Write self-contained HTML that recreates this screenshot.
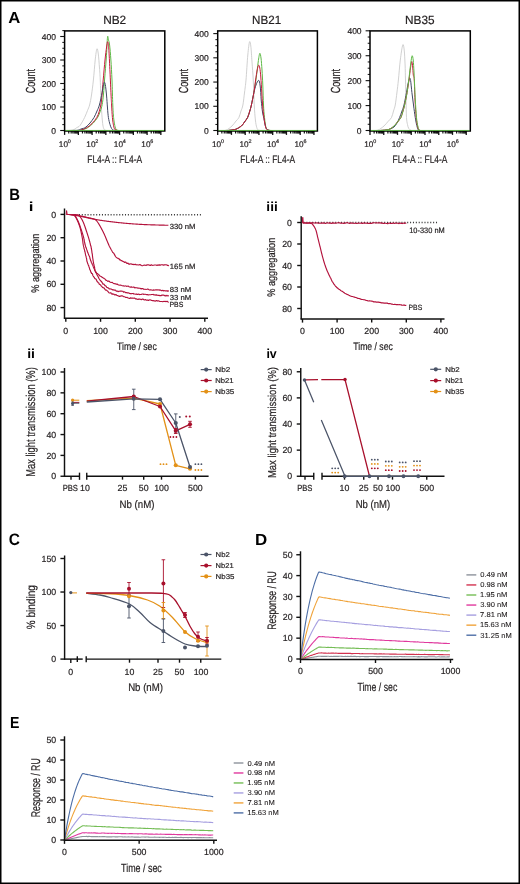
<!DOCTYPE html>
<html><head><meta charset="utf-8"><style>
html,body{margin:0;padding:0;background:#fff;}
body{width:520px;height:884px;overflow:hidden;}
svg text{stroke:#231f20;stroke-width:0.2px;} svg text[font-weight=bold]{stroke:none;}
svg{display:block;will-change:transform;text-rendering:geometricPrecision;font-family:"Liberation Sans",sans-serif;}
</style></head><body>
<svg width="520" height="884" viewBox="0 0 520 884">
<rect x="0.75" y="0.75" width="518.5" height="882.5" fill="none" stroke="#000" stroke-width="1.5"/>
<text x="8.28" y="22.9" font-size="16.09" font-weight="bold" textLength="12.07" lengthAdjust="spacingAndGlyphs" fill="#000" >A</text>
<text x="103.15" y="23.8" font-size="12" textLength="23.04" lengthAdjust="spacingAndGlyphs" fill="#231f20" >NB2</text>
<line x1="60.2" y1="130.5" x2="64.6" y2="130.5" stroke="#111" stroke-width="1.1" />
<text x="56" y="133.5" font-size="8.5" text-anchor="end" fill="#231f20" >0</text>
<line x1="62.3" y1="124.62" x2="64.6" y2="124.62" stroke="#111" stroke-width="1.0" />
<line x1="62.3" y1="118.75" x2="64.6" y2="118.75" stroke="#111" stroke-width="1.0" />
<line x1="62.3" y1="112.88" x2="64.6" y2="112.88" stroke="#111" stroke-width="1.0" />
<line x1="60.2" y1="107" x2="64.6" y2="107" stroke="#111" stroke-width="1.1" />
<text x="56" y="110" font-size="8.5" text-anchor="end" fill="#231f20" >100</text>
<line x1="62.3" y1="101.12" x2="64.6" y2="101.12" stroke="#111" stroke-width="1.0" />
<line x1="62.3" y1="95.25" x2="64.6" y2="95.25" stroke="#111" stroke-width="1.0" />
<line x1="62.3" y1="89.38" x2="64.6" y2="89.38" stroke="#111" stroke-width="1.0" />
<line x1="60.2" y1="83.5" x2="64.6" y2="83.5" stroke="#111" stroke-width="1.1" />
<text x="56" y="86.5" font-size="8.5" text-anchor="end" fill="#231f20" >200</text>
<line x1="62.3" y1="77.62" x2="64.6" y2="77.62" stroke="#111" stroke-width="1.0" />
<line x1="62.3" y1="71.75" x2="64.6" y2="71.75" stroke="#111" stroke-width="1.0" />
<line x1="62.3" y1="65.88" x2="64.6" y2="65.88" stroke="#111" stroke-width="1.0" />
<line x1="60.2" y1="60" x2="64.6" y2="60" stroke="#111" stroke-width="1.1" />
<text x="56" y="63" font-size="8.5" text-anchor="end" fill="#231f20" >300</text>
<line x1="62.3" y1="54.12" x2="64.6" y2="54.12" stroke="#111" stroke-width="1.0" />
<line x1="62.3" y1="48.25" x2="64.6" y2="48.25" stroke="#111" stroke-width="1.0" />
<line x1="62.3" y1="42.38" x2="64.6" y2="42.38" stroke="#111" stroke-width="1.0" />
<line x1="60.2" y1="36.5" x2="64.6" y2="36.5" stroke="#111" stroke-width="1.1" />
<text x="56" y="39.5" font-size="8.5" text-anchor="end" fill="#231f20" >400</text>
<line x1="62.3" y1="30.62" x2="64.6" y2="30.62" stroke="#111" stroke-width="1.0" />
<line x1="64.6" y1="131" x2="64.6" y2="134.9" stroke="#111" stroke-width="1.3" />
<line x1="68.74" y1="131" x2="68.74" y2="133.5" stroke="#111" stroke-width="1.2" />
<line x1="71.16" y1="131" x2="71.16" y2="133.5" stroke="#111" stroke-width="1.2" />
<line x1="72.88" y1="131" x2="72.88" y2="133.5" stroke="#111" stroke-width="1.2" />
<line x1="74.21" y1="131" x2="74.21" y2="133.5" stroke="#111" stroke-width="1.2" />
<line x1="75.3" y1="131" x2="75.3" y2="133.5" stroke="#111" stroke-width="1.2" />
<line x1="76.22" y1="131" x2="76.22" y2="133.5" stroke="#111" stroke-width="1.2" />
<line x1="77.02" y1="131" x2="77.02" y2="133.5" stroke="#111" stroke-width="1.2" />
<line x1="77.72" y1="131" x2="77.72" y2="133.5" stroke="#111" stroke-width="1.2" />
<line x1="78.35" y1="131" x2="78.35" y2="134.9" stroke="#111" stroke-width="1.3" />
<line x1="82.49" y1="131" x2="82.49" y2="133.5" stroke="#111" stroke-width="1.2" />
<line x1="84.91" y1="131" x2="84.91" y2="133.5" stroke="#111" stroke-width="1.2" />
<line x1="86.63" y1="131" x2="86.63" y2="133.5" stroke="#111" stroke-width="1.2" />
<line x1="87.96" y1="131" x2="87.96" y2="133.5" stroke="#111" stroke-width="1.2" />
<line x1="89.05" y1="131" x2="89.05" y2="133.5" stroke="#111" stroke-width="1.2" />
<line x1="89.97" y1="131" x2="89.97" y2="133.5" stroke="#111" stroke-width="1.2" />
<line x1="90.77" y1="131" x2="90.77" y2="133.5" stroke="#111" stroke-width="1.2" />
<line x1="91.47" y1="131" x2="91.47" y2="133.5" stroke="#111" stroke-width="1.2" />
<line x1="92.1" y1="131" x2="92.1" y2="134.9" stroke="#111" stroke-width="1.3" />
<line x1="96.24" y1="131" x2="96.24" y2="133.5" stroke="#111" stroke-width="1.2" />
<line x1="98.66" y1="131" x2="98.66" y2="133.5" stroke="#111" stroke-width="1.2" />
<line x1="100.38" y1="131" x2="100.38" y2="133.5" stroke="#111" stroke-width="1.2" />
<line x1="101.71" y1="131" x2="101.71" y2="133.5" stroke="#111" stroke-width="1.2" />
<line x1="102.8" y1="131" x2="102.8" y2="133.5" stroke="#111" stroke-width="1.2" />
<line x1="103.72" y1="131" x2="103.72" y2="133.5" stroke="#111" stroke-width="1.2" />
<line x1="104.52" y1="131" x2="104.52" y2="133.5" stroke="#111" stroke-width="1.2" />
<line x1="105.22" y1="131" x2="105.22" y2="133.5" stroke="#111" stroke-width="1.2" />
<line x1="105.85" y1="131" x2="105.85" y2="134.9" stroke="#111" stroke-width="1.3" />
<line x1="109.99" y1="131" x2="109.99" y2="133.5" stroke="#111" stroke-width="1.2" />
<line x1="112.41" y1="131" x2="112.41" y2="133.5" stroke="#111" stroke-width="1.2" />
<line x1="114.13" y1="131" x2="114.13" y2="133.5" stroke="#111" stroke-width="1.2" />
<line x1="115.46" y1="131" x2="115.46" y2="133.5" stroke="#111" stroke-width="1.2" />
<line x1="116.55" y1="131" x2="116.55" y2="133.5" stroke="#111" stroke-width="1.2" />
<line x1="117.47" y1="131" x2="117.47" y2="133.5" stroke="#111" stroke-width="1.2" />
<line x1="118.27" y1="131" x2="118.27" y2="133.5" stroke="#111" stroke-width="1.2" />
<line x1="118.97" y1="131" x2="118.97" y2="133.5" stroke="#111" stroke-width="1.2" />
<line x1="119.6" y1="131" x2="119.6" y2="134.9" stroke="#111" stroke-width="1.3" />
<line x1="123.74" y1="131" x2="123.74" y2="133.5" stroke="#111" stroke-width="1.2" />
<line x1="126.16" y1="131" x2="126.16" y2="133.5" stroke="#111" stroke-width="1.2" />
<line x1="127.88" y1="131" x2="127.88" y2="133.5" stroke="#111" stroke-width="1.2" />
<line x1="129.21" y1="131" x2="129.21" y2="133.5" stroke="#111" stroke-width="1.2" />
<line x1="130.3" y1="131" x2="130.3" y2="133.5" stroke="#111" stroke-width="1.2" />
<line x1="131.22" y1="131" x2="131.22" y2="133.5" stroke="#111" stroke-width="1.2" />
<line x1="132.02" y1="131" x2="132.02" y2="133.5" stroke="#111" stroke-width="1.2" />
<line x1="132.72" y1="131" x2="132.72" y2="133.5" stroke="#111" stroke-width="1.2" />
<line x1="133.35" y1="131" x2="133.35" y2="134.9" stroke="#111" stroke-width="1.3" />
<line x1="137.49" y1="131" x2="137.49" y2="133.5" stroke="#111" stroke-width="1.2" />
<line x1="139.91" y1="131" x2="139.91" y2="133.5" stroke="#111" stroke-width="1.2" />
<line x1="141.63" y1="131" x2="141.63" y2="133.5" stroke="#111" stroke-width="1.2" />
<line x1="142.96" y1="131" x2="142.96" y2="133.5" stroke="#111" stroke-width="1.2" />
<line x1="144.05" y1="131" x2="144.05" y2="133.5" stroke="#111" stroke-width="1.2" />
<line x1="144.97" y1="131" x2="144.97" y2="133.5" stroke="#111" stroke-width="1.2" />
<line x1="145.77" y1="131" x2="145.77" y2="133.5" stroke="#111" stroke-width="1.2" />
<line x1="146.47" y1="131" x2="146.47" y2="133.5" stroke="#111" stroke-width="1.2" />
<line x1="147.1" y1="131" x2="147.1" y2="134.9" stroke="#111" stroke-width="1.3" />
<line x1="151.24" y1="131" x2="151.24" y2="133.5" stroke="#111" stroke-width="1.2" />
<line x1="153.66" y1="131" x2="153.66" y2="133.5" stroke="#111" stroke-width="1.2" />
<line x1="155.38" y1="131" x2="155.38" y2="133.5" stroke="#111" stroke-width="1.2" />
<line x1="156.71" y1="131" x2="156.71" y2="133.5" stroke="#111" stroke-width="1.2" />
<line x1="157.8" y1="131" x2="157.8" y2="133.5" stroke="#111" stroke-width="1.2" />
<line x1="158.72" y1="131" x2="158.72" y2="133.5" stroke="#111" stroke-width="1.2" />
<line x1="159.52" y1="131" x2="159.52" y2="133.5" stroke="#111" stroke-width="1.2" />
<line x1="160.22" y1="131" x2="160.22" y2="133.5" stroke="#111" stroke-width="1.2" />
<line x1="160.85" y1="131" x2="160.85" y2="134.9" stroke="#111" stroke-width="1.3" />
<text x="63.4" y="147.2" font-size="8.2" text-anchor="middle" fill="#231f20" >10</text>
<text x="67.8" y="143.3" font-size="5.4" fill="#231f20" >0</text>
<text x="90.9" y="147.2" font-size="8.2" text-anchor="middle" fill="#231f20" >10</text>
<text x="95.3" y="143.3" font-size="5.4" fill="#231f20" >2</text>
<text x="118.4" y="147.2" font-size="8.2" text-anchor="middle" fill="#231f20" >10</text>
<text x="122.8" y="143.3" font-size="5.4" fill="#231f20" >4</text>
<text x="145.9" y="147.2" font-size="8.2" text-anchor="middle" fill="#231f20" >10</text>
<text x="150.3" y="143.3" font-size="5.4" fill="#231f20" >6</text>
<text x="87.22" y="162.5" font-size="10.87" textLength="54.9" lengthAdjust="spacingAndGlyphs" fill="#231f20" >FL4-A :: FL4-A</text>
<text x="0" y="0" font-size="13.14" textLength="24.23" lengthAdjust="spacingAndGlyphs" fill="#231f20" transform="translate(35 93.25) rotate(-90)" >Count</text>
<text x="252.07" y="23.8" font-size="12" textLength="29.03" lengthAdjust="spacingAndGlyphs" fill="#231f20" >NB21</text>
<line x1="213.3" y1="130.5" x2="217.7" y2="130.5" stroke="#111" stroke-width="1.1" />
<text x="208.8" y="133.5" font-size="8.5" text-anchor="end" fill="#231f20" >0</text>
<line x1="215.4" y1="124.44" x2="217.7" y2="124.44" stroke="#111" stroke-width="1.0" />
<line x1="215.4" y1="118.39" x2="217.7" y2="118.39" stroke="#111" stroke-width="1.0" />
<line x1="215.4" y1="112.33" x2="217.7" y2="112.33" stroke="#111" stroke-width="1.0" />
<line x1="213.3" y1="106.28" x2="217.7" y2="106.28" stroke="#111" stroke-width="1.1" />
<text x="208.8" y="109.28" font-size="8.5" text-anchor="end" fill="#231f20" >100</text>
<line x1="215.4" y1="100.22" x2="217.7" y2="100.22" stroke="#111" stroke-width="1.0" />
<line x1="215.4" y1="94.16" x2="217.7" y2="94.16" stroke="#111" stroke-width="1.0" />
<line x1="215.4" y1="88.11" x2="217.7" y2="88.11" stroke="#111" stroke-width="1.0" />
<line x1="213.3" y1="82.05" x2="217.7" y2="82.05" stroke="#111" stroke-width="1.1" />
<text x="208.8" y="85.05" font-size="8.5" text-anchor="end" fill="#231f20" >200</text>
<line x1="215.4" y1="75.99" x2="217.7" y2="75.99" stroke="#111" stroke-width="1.0" />
<line x1="215.4" y1="69.94" x2="217.7" y2="69.94" stroke="#111" stroke-width="1.0" />
<line x1="215.4" y1="63.88" x2="217.7" y2="63.88" stroke="#111" stroke-width="1.0" />
<line x1="213.3" y1="57.82" x2="217.7" y2="57.82" stroke="#111" stroke-width="1.1" />
<text x="208.8" y="60.82" font-size="8.5" text-anchor="end" fill="#231f20" >300</text>
<line x1="215.4" y1="51.77" x2="217.7" y2="51.77" stroke="#111" stroke-width="1.0" />
<line x1="215.4" y1="45.71" x2="217.7" y2="45.71" stroke="#111" stroke-width="1.0" />
<line x1="215.4" y1="39.66" x2="217.7" y2="39.66" stroke="#111" stroke-width="1.0" />
<line x1="213.3" y1="33.6" x2="217.7" y2="33.6" stroke="#111" stroke-width="1.1" />
<text x="208.8" y="36.6" font-size="8.5" text-anchor="end" fill="#231f20" >400</text>
<line x1="217.7" y1="131" x2="217.7" y2="134.9" stroke="#111" stroke-width="1.3" />
<line x1="221.84" y1="131" x2="221.84" y2="133.5" stroke="#111" stroke-width="1.2" />
<line x1="224.26" y1="131" x2="224.26" y2="133.5" stroke="#111" stroke-width="1.2" />
<line x1="225.98" y1="131" x2="225.98" y2="133.5" stroke="#111" stroke-width="1.2" />
<line x1="227.31" y1="131" x2="227.31" y2="133.5" stroke="#111" stroke-width="1.2" />
<line x1="228.4" y1="131" x2="228.4" y2="133.5" stroke="#111" stroke-width="1.2" />
<line x1="229.32" y1="131" x2="229.32" y2="133.5" stroke="#111" stroke-width="1.2" />
<line x1="230.12" y1="131" x2="230.12" y2="133.5" stroke="#111" stroke-width="1.2" />
<line x1="230.82" y1="131" x2="230.82" y2="133.5" stroke="#111" stroke-width="1.2" />
<line x1="231.45" y1="131" x2="231.45" y2="134.9" stroke="#111" stroke-width="1.3" />
<line x1="235.59" y1="131" x2="235.59" y2="133.5" stroke="#111" stroke-width="1.2" />
<line x1="238.01" y1="131" x2="238.01" y2="133.5" stroke="#111" stroke-width="1.2" />
<line x1="239.73" y1="131" x2="239.73" y2="133.5" stroke="#111" stroke-width="1.2" />
<line x1="241.06" y1="131" x2="241.06" y2="133.5" stroke="#111" stroke-width="1.2" />
<line x1="242.15" y1="131" x2="242.15" y2="133.5" stroke="#111" stroke-width="1.2" />
<line x1="243.07" y1="131" x2="243.07" y2="133.5" stroke="#111" stroke-width="1.2" />
<line x1="243.87" y1="131" x2="243.87" y2="133.5" stroke="#111" stroke-width="1.2" />
<line x1="244.57" y1="131" x2="244.57" y2="133.5" stroke="#111" stroke-width="1.2" />
<line x1="245.2" y1="131" x2="245.2" y2="134.9" stroke="#111" stroke-width="1.3" />
<line x1="249.34" y1="131" x2="249.34" y2="133.5" stroke="#111" stroke-width="1.2" />
<line x1="251.76" y1="131" x2="251.76" y2="133.5" stroke="#111" stroke-width="1.2" />
<line x1="253.48" y1="131" x2="253.48" y2="133.5" stroke="#111" stroke-width="1.2" />
<line x1="254.81" y1="131" x2="254.81" y2="133.5" stroke="#111" stroke-width="1.2" />
<line x1="255.9" y1="131" x2="255.9" y2="133.5" stroke="#111" stroke-width="1.2" />
<line x1="256.82" y1="131" x2="256.82" y2="133.5" stroke="#111" stroke-width="1.2" />
<line x1="257.62" y1="131" x2="257.62" y2="133.5" stroke="#111" stroke-width="1.2" />
<line x1="258.32" y1="131" x2="258.32" y2="133.5" stroke="#111" stroke-width="1.2" />
<line x1="258.95" y1="131" x2="258.95" y2="134.9" stroke="#111" stroke-width="1.3" />
<line x1="263.09" y1="131" x2="263.09" y2="133.5" stroke="#111" stroke-width="1.2" />
<line x1="265.51" y1="131" x2="265.51" y2="133.5" stroke="#111" stroke-width="1.2" />
<line x1="267.23" y1="131" x2="267.23" y2="133.5" stroke="#111" stroke-width="1.2" />
<line x1="268.56" y1="131" x2="268.56" y2="133.5" stroke="#111" stroke-width="1.2" />
<line x1="269.65" y1="131" x2="269.65" y2="133.5" stroke="#111" stroke-width="1.2" />
<line x1="270.57" y1="131" x2="270.57" y2="133.5" stroke="#111" stroke-width="1.2" />
<line x1="271.37" y1="131" x2="271.37" y2="133.5" stroke="#111" stroke-width="1.2" />
<line x1="272.07" y1="131" x2="272.07" y2="133.5" stroke="#111" stroke-width="1.2" />
<line x1="272.7" y1="131" x2="272.7" y2="134.9" stroke="#111" stroke-width="1.3" />
<line x1="276.84" y1="131" x2="276.84" y2="133.5" stroke="#111" stroke-width="1.2" />
<line x1="279.26" y1="131" x2="279.26" y2="133.5" stroke="#111" stroke-width="1.2" />
<line x1="280.98" y1="131" x2="280.98" y2="133.5" stroke="#111" stroke-width="1.2" />
<line x1="282.31" y1="131" x2="282.31" y2="133.5" stroke="#111" stroke-width="1.2" />
<line x1="283.4" y1="131" x2="283.4" y2="133.5" stroke="#111" stroke-width="1.2" />
<line x1="284.32" y1="131" x2="284.32" y2="133.5" stroke="#111" stroke-width="1.2" />
<line x1="285.12" y1="131" x2="285.12" y2="133.5" stroke="#111" stroke-width="1.2" />
<line x1="285.82" y1="131" x2="285.82" y2="133.5" stroke="#111" stroke-width="1.2" />
<line x1="286.45" y1="131" x2="286.45" y2="134.9" stroke="#111" stroke-width="1.3" />
<line x1="290.59" y1="131" x2="290.59" y2="133.5" stroke="#111" stroke-width="1.2" />
<line x1="293.01" y1="131" x2="293.01" y2="133.5" stroke="#111" stroke-width="1.2" />
<line x1="294.73" y1="131" x2="294.73" y2="133.5" stroke="#111" stroke-width="1.2" />
<line x1="296.06" y1="131" x2="296.06" y2="133.5" stroke="#111" stroke-width="1.2" />
<line x1="297.15" y1="131" x2="297.15" y2="133.5" stroke="#111" stroke-width="1.2" />
<line x1="298.07" y1="131" x2="298.07" y2="133.5" stroke="#111" stroke-width="1.2" />
<line x1="298.87" y1="131" x2="298.87" y2="133.5" stroke="#111" stroke-width="1.2" />
<line x1="299.57" y1="131" x2="299.57" y2="133.5" stroke="#111" stroke-width="1.2" />
<line x1="300.2" y1="131" x2="300.2" y2="134.9" stroke="#111" stroke-width="1.3" />
<line x1="304.34" y1="131" x2="304.34" y2="133.5" stroke="#111" stroke-width="1.2" />
<line x1="306.76" y1="131" x2="306.76" y2="133.5" stroke="#111" stroke-width="1.2" />
<line x1="308.48" y1="131" x2="308.48" y2="133.5" stroke="#111" stroke-width="1.2" />
<line x1="309.81" y1="131" x2="309.81" y2="133.5" stroke="#111" stroke-width="1.2" />
<line x1="310.9" y1="131" x2="310.9" y2="133.5" stroke="#111" stroke-width="1.2" />
<line x1="311.82" y1="131" x2="311.82" y2="133.5" stroke="#111" stroke-width="1.2" />
<line x1="312.62" y1="131" x2="312.62" y2="133.5" stroke="#111" stroke-width="1.2" />
<line x1="313.32" y1="131" x2="313.32" y2="133.5" stroke="#111" stroke-width="1.2" />
<line x1="313.95" y1="131" x2="313.95" y2="134.9" stroke="#111" stroke-width="1.3" />
<text x="216.5" y="147.2" font-size="8.2" text-anchor="middle" fill="#231f20" >10</text>
<text x="220.9" y="143.3" font-size="5.4" fill="#231f20" >0</text>
<text x="244" y="147.2" font-size="8.2" text-anchor="middle" fill="#231f20" >10</text>
<text x="248.4" y="143.3" font-size="5.4" fill="#231f20" >2</text>
<text x="271.5" y="147.2" font-size="8.2" text-anchor="middle" fill="#231f20" >10</text>
<text x="275.9" y="143.3" font-size="5.4" fill="#231f20" >4</text>
<text x="299" y="147.2" font-size="8.2" text-anchor="middle" fill="#231f20" >10</text>
<text x="303.4" y="143.3" font-size="5.4" fill="#231f20" >6</text>
<text x="240.32" y="162.5" font-size="10.87" textLength="54.9" lengthAdjust="spacingAndGlyphs" fill="#231f20" >FL4-A :: FL4-A</text>
<text x="0" y="0" font-size="13.14" textLength="24.23" lengthAdjust="spacingAndGlyphs" fill="#231f20" transform="translate(188.1 93.25) rotate(-90)" >Count</text>
<text x="405.06" y="23.8" font-size="12" textLength="29.54" lengthAdjust="spacingAndGlyphs" fill="#231f20" >NB35</text>
<line x1="365.6" y1="130.5" x2="370" y2="130.5" stroke="#111" stroke-width="1.1" />
<text x="361.6" y="133.5" font-size="8.5" text-anchor="end" fill="#231f20" >0</text>
<line x1="367.7" y1="124.27" x2="370" y2="124.27" stroke="#111" stroke-width="1.0" />
<line x1="367.7" y1="118.04" x2="370" y2="118.04" stroke="#111" stroke-width="1.0" />
<line x1="367.7" y1="111.81" x2="370" y2="111.81" stroke="#111" stroke-width="1.0" />
<line x1="365.6" y1="105.58" x2="370" y2="105.58" stroke="#111" stroke-width="1.1" />
<text x="361.6" y="108.58" font-size="8.5" text-anchor="end" fill="#231f20" >100</text>
<line x1="367.7" y1="99.34" x2="370" y2="99.34" stroke="#111" stroke-width="1.0" />
<line x1="367.7" y1="93.11" x2="370" y2="93.11" stroke="#111" stroke-width="1.0" />
<line x1="367.7" y1="86.88" x2="370" y2="86.88" stroke="#111" stroke-width="1.0" />
<line x1="365.6" y1="80.65" x2="370" y2="80.65" stroke="#111" stroke-width="1.1" />
<text x="361.6" y="83.65" font-size="8.5" text-anchor="end" fill="#231f20" >200</text>
<line x1="367.7" y1="74.42" x2="370" y2="74.42" stroke="#111" stroke-width="1.0" />
<line x1="367.7" y1="68.19" x2="370" y2="68.19" stroke="#111" stroke-width="1.0" />
<line x1="367.7" y1="61.96" x2="370" y2="61.96" stroke="#111" stroke-width="1.0" />
<line x1="365.6" y1="55.72" x2="370" y2="55.72" stroke="#111" stroke-width="1.1" />
<text x="361.6" y="58.72" font-size="8.5" text-anchor="end" fill="#231f20" >300</text>
<line x1="367.7" y1="49.49" x2="370" y2="49.49" stroke="#111" stroke-width="1.0" />
<line x1="367.7" y1="43.26" x2="370" y2="43.26" stroke="#111" stroke-width="1.0" />
<line x1="367.7" y1="37.03" x2="370" y2="37.03" stroke="#111" stroke-width="1.0" />
<line x1="365.6" y1="30.8" x2="370" y2="30.8" stroke="#111" stroke-width="1.1" />
<text x="361.6" y="33.8" font-size="8.5" text-anchor="end" fill="#231f20" >400</text>
<line x1="370" y1="131" x2="370" y2="134.9" stroke="#111" stroke-width="1.3" />
<line x1="374.14" y1="131" x2="374.14" y2="133.5" stroke="#111" stroke-width="1.2" />
<line x1="376.56" y1="131" x2="376.56" y2="133.5" stroke="#111" stroke-width="1.2" />
<line x1="378.28" y1="131" x2="378.28" y2="133.5" stroke="#111" stroke-width="1.2" />
<line x1="379.61" y1="131" x2="379.61" y2="133.5" stroke="#111" stroke-width="1.2" />
<line x1="380.7" y1="131" x2="380.7" y2="133.5" stroke="#111" stroke-width="1.2" />
<line x1="381.62" y1="131" x2="381.62" y2="133.5" stroke="#111" stroke-width="1.2" />
<line x1="382.42" y1="131" x2="382.42" y2="133.5" stroke="#111" stroke-width="1.2" />
<line x1="383.12" y1="131" x2="383.12" y2="133.5" stroke="#111" stroke-width="1.2" />
<line x1="383.75" y1="131" x2="383.75" y2="134.9" stroke="#111" stroke-width="1.3" />
<line x1="387.89" y1="131" x2="387.89" y2="133.5" stroke="#111" stroke-width="1.2" />
<line x1="390.31" y1="131" x2="390.31" y2="133.5" stroke="#111" stroke-width="1.2" />
<line x1="392.03" y1="131" x2="392.03" y2="133.5" stroke="#111" stroke-width="1.2" />
<line x1="393.36" y1="131" x2="393.36" y2="133.5" stroke="#111" stroke-width="1.2" />
<line x1="394.45" y1="131" x2="394.45" y2="133.5" stroke="#111" stroke-width="1.2" />
<line x1="395.37" y1="131" x2="395.37" y2="133.5" stroke="#111" stroke-width="1.2" />
<line x1="396.17" y1="131" x2="396.17" y2="133.5" stroke="#111" stroke-width="1.2" />
<line x1="396.87" y1="131" x2="396.87" y2="133.5" stroke="#111" stroke-width="1.2" />
<line x1="397.5" y1="131" x2="397.5" y2="134.9" stroke="#111" stroke-width="1.3" />
<line x1="401.64" y1="131" x2="401.64" y2="133.5" stroke="#111" stroke-width="1.2" />
<line x1="404.06" y1="131" x2="404.06" y2="133.5" stroke="#111" stroke-width="1.2" />
<line x1="405.78" y1="131" x2="405.78" y2="133.5" stroke="#111" stroke-width="1.2" />
<line x1="407.11" y1="131" x2="407.11" y2="133.5" stroke="#111" stroke-width="1.2" />
<line x1="408.2" y1="131" x2="408.2" y2="133.5" stroke="#111" stroke-width="1.2" />
<line x1="409.12" y1="131" x2="409.12" y2="133.5" stroke="#111" stroke-width="1.2" />
<line x1="409.92" y1="131" x2="409.92" y2="133.5" stroke="#111" stroke-width="1.2" />
<line x1="410.62" y1="131" x2="410.62" y2="133.5" stroke="#111" stroke-width="1.2" />
<line x1="411.25" y1="131" x2="411.25" y2="134.9" stroke="#111" stroke-width="1.3" />
<line x1="415.39" y1="131" x2="415.39" y2="133.5" stroke="#111" stroke-width="1.2" />
<line x1="417.81" y1="131" x2="417.81" y2="133.5" stroke="#111" stroke-width="1.2" />
<line x1="419.53" y1="131" x2="419.53" y2="133.5" stroke="#111" stroke-width="1.2" />
<line x1="420.86" y1="131" x2="420.86" y2="133.5" stroke="#111" stroke-width="1.2" />
<line x1="421.95" y1="131" x2="421.95" y2="133.5" stroke="#111" stroke-width="1.2" />
<line x1="422.87" y1="131" x2="422.87" y2="133.5" stroke="#111" stroke-width="1.2" />
<line x1="423.67" y1="131" x2="423.67" y2="133.5" stroke="#111" stroke-width="1.2" />
<line x1="424.37" y1="131" x2="424.37" y2="133.5" stroke="#111" stroke-width="1.2" />
<line x1="425" y1="131" x2="425" y2="134.9" stroke="#111" stroke-width="1.3" />
<line x1="429.14" y1="131" x2="429.14" y2="133.5" stroke="#111" stroke-width="1.2" />
<line x1="431.56" y1="131" x2="431.56" y2="133.5" stroke="#111" stroke-width="1.2" />
<line x1="433.28" y1="131" x2="433.28" y2="133.5" stroke="#111" stroke-width="1.2" />
<line x1="434.61" y1="131" x2="434.61" y2="133.5" stroke="#111" stroke-width="1.2" />
<line x1="435.7" y1="131" x2="435.7" y2="133.5" stroke="#111" stroke-width="1.2" />
<line x1="436.62" y1="131" x2="436.62" y2="133.5" stroke="#111" stroke-width="1.2" />
<line x1="437.42" y1="131" x2="437.42" y2="133.5" stroke="#111" stroke-width="1.2" />
<line x1="438.12" y1="131" x2="438.12" y2="133.5" stroke="#111" stroke-width="1.2" />
<line x1="438.75" y1="131" x2="438.75" y2="134.9" stroke="#111" stroke-width="1.3" />
<line x1="442.89" y1="131" x2="442.89" y2="133.5" stroke="#111" stroke-width="1.2" />
<line x1="445.31" y1="131" x2="445.31" y2="133.5" stroke="#111" stroke-width="1.2" />
<line x1="447.03" y1="131" x2="447.03" y2="133.5" stroke="#111" stroke-width="1.2" />
<line x1="448.36" y1="131" x2="448.36" y2="133.5" stroke="#111" stroke-width="1.2" />
<line x1="449.45" y1="131" x2="449.45" y2="133.5" stroke="#111" stroke-width="1.2" />
<line x1="450.37" y1="131" x2="450.37" y2="133.5" stroke="#111" stroke-width="1.2" />
<line x1="451.17" y1="131" x2="451.17" y2="133.5" stroke="#111" stroke-width="1.2" />
<line x1="451.87" y1="131" x2="451.87" y2="133.5" stroke="#111" stroke-width="1.2" />
<line x1="452.5" y1="131" x2="452.5" y2="134.9" stroke="#111" stroke-width="1.3" />
<line x1="456.64" y1="131" x2="456.64" y2="133.5" stroke="#111" stroke-width="1.2" />
<line x1="459.06" y1="131" x2="459.06" y2="133.5" stroke="#111" stroke-width="1.2" />
<line x1="460.78" y1="131" x2="460.78" y2="133.5" stroke="#111" stroke-width="1.2" />
<line x1="462.11" y1="131" x2="462.11" y2="133.5" stroke="#111" stroke-width="1.2" />
<line x1="463.2" y1="131" x2="463.2" y2="133.5" stroke="#111" stroke-width="1.2" />
<line x1="464.12" y1="131" x2="464.12" y2="133.5" stroke="#111" stroke-width="1.2" />
<line x1="464.92" y1="131" x2="464.92" y2="133.5" stroke="#111" stroke-width="1.2" />
<line x1="465.62" y1="131" x2="465.62" y2="133.5" stroke="#111" stroke-width="1.2" />
<line x1="466.25" y1="131" x2="466.25" y2="134.9" stroke="#111" stroke-width="1.3" />
<text x="368.8" y="147.2" font-size="8.2" text-anchor="middle" fill="#231f20" >10</text>
<text x="373.2" y="143.3" font-size="5.4" fill="#231f20" >0</text>
<text x="396.3" y="147.2" font-size="8.2" text-anchor="middle" fill="#231f20" >10</text>
<text x="400.7" y="143.3" font-size="5.4" fill="#231f20" >2</text>
<text x="423.8" y="147.2" font-size="8.2" text-anchor="middle" fill="#231f20" >10</text>
<text x="428.2" y="143.3" font-size="5.4" fill="#231f20" >4</text>
<text x="451.3" y="147.2" font-size="8.2" text-anchor="middle" fill="#231f20" >10</text>
<text x="455.7" y="143.3" font-size="5.4" fill="#231f20" >6</text>
<text x="392.62" y="162.5" font-size="10.87" textLength="54.9" lengthAdjust="spacingAndGlyphs" fill="#231f20" >FL4-A :: FL4-A</text>
<text x="0" y="0" font-size="13.14" textLength="24.23" lengthAdjust="spacingAndGlyphs" fill="#231f20" transform="translate(340.2 93.25) rotate(-90)" >Count</text>
<path d="M65,130.5 C65.83,130.47 68.5,130.45 70,130.3 C71.5,130.15 72.92,130.02 74,129.6 C75.08,129.18 75.5,128.48 76.5,127.8 C77.5,127.12 78.65,127.22 80,125.5 C81.35,123.78 83.35,120 84.6,117.5 C85.85,115 86.67,112.58 87.5,110.5 C88.33,108.42 88.93,107.58 89.6,105 C90.27,102.42 90.87,99.17 91.5,95 C92.13,90.83 92.78,85.83 93.4,80 C94.02,74.17 94.62,65.18 95.2,60 C95.78,54.82 96.38,49.9 96.9,48.9 C97.42,47.9 97.87,50.82 98.3,54 C98.73,57.18 99.17,63.67 99.5,68 C99.83,72.33 99.96,73.83 100.25,80 C100.54,86.17 100.89,98.17 101.25,105 C101.61,111.83 102.04,117.25 102.4,121 C102.76,124.75 102.97,125.97 103.4,127.5 C103.83,129.03 104.23,129.7 105,130.2 C105.77,130.7 107.5,130.45 108,130.5" fill="none" stroke="#c8c8c8" stroke-width="0.85" stroke-linejoin="round" stroke-linecap="round" />
<path d="M76,130.5 C76.83,130.47 79.08,130.75 81,130.3 C82.92,129.85 85.5,128.97 87.5,127.8 C89.5,126.63 91.28,125.07 93,123.3 C94.72,121.53 96.58,119.25 97.8,117.2 C99.02,115.15 99.57,113.12 100.3,111 C101.03,108.88 101.67,107.33 102.2,104.5 C102.73,101.67 103.08,98.42 103.5,94 C103.92,89.58 104.23,84 104.7,78 C105.17,72 105.83,64.8 106.3,58 C106.77,51.2 107.13,40.2 107.5,37.2 C107.87,34.2 108.15,38.7 108.5,40 C108.85,41.3 109.2,41.67 109.6,45 C110,48.33 110.5,54.17 110.9,60 C111.3,65.83 111.68,72.5 112,80 C112.32,87.5 112.53,98.75 112.8,105 C113.07,111.25 113.27,114.08 113.6,117.5 C113.93,120.92 114.35,123.48 114.8,125.5 C115.25,127.52 115.6,128.77 116.3,129.6 C117,130.43 118.55,130.35 119,130.5" fill="none" stroke="#5db845" stroke-width="1.0" stroke-linejoin="round" stroke-linecap="round" />
<path d="M75,130.5 C75.83,130.47 78.08,130.75 80,130.3 C81.92,129.85 84.5,128.93 86.5,127.8 C88.5,126.67 90.29,125.22 92,123.5 C93.71,121.78 95.55,119.5 96.75,117.5 C97.95,115.5 98.49,113.75 99.2,111.5 C99.91,109.25 100.53,106.75 101,104 C101.47,101.25 101.63,99 102,95 C102.37,91 102.7,85.83 103.2,80 C103.7,74.17 104.43,65.5 105,60 C105.57,54.5 106.18,50.03 106.6,47 C107.02,43.97 107.2,42.25 107.5,41.8 C107.8,41.35 108.15,42.6 108.4,44.3 C108.65,46 108.73,47.38 109,52 C109.27,56.62 109.66,64.83 110,72 C110.34,79.17 110.78,89.5 111.05,95 C111.32,100.5 111.38,101.25 111.6,105 C111.82,108.75 112.07,114.03 112.4,117.5 C112.73,120.97 113.17,123.78 113.6,125.8 C114.03,127.82 114.27,128.82 115,129.6 C115.73,130.38 117.5,130.35 118,130.5" fill="none" stroke="#c8193c" stroke-width="1.0" stroke-linejoin="round" stroke-linecap="round" />
<path d="M72,130.5 C73,130.45 76.5,130.45 78,130.2 C79.5,129.95 80.08,129.32 81,129 C81.92,128.68 82.67,128.63 83.5,128.3 C84.33,127.97 84.92,127.88 86,127 C87.08,126.12 88.67,124.58 90,123 C91.33,121.42 92.83,119.5 94,117.5 C95.17,115.5 96.1,113.08 97,111 C97.9,108.92 98.55,108.08 99.4,105 C100.25,101.92 101.42,95.92 102.1,92.5 C102.78,89.08 103.14,86.22 103.5,84.5 C103.86,82.78 103.95,82.2 104.25,82.2 C104.55,82.2 104.92,82.37 105.3,84.5 C105.67,86.63 106.13,91.08 106.5,95 C106.87,98.92 107.18,104.25 107.5,108 C107.82,111.75 107.98,114.75 108.4,117.5 C108.82,120.25 109.47,122.67 110,124.5 C110.53,126.33 111.03,127.55 111.6,128.5 C112.17,129.45 112.5,129.87 113.4,130.2 C114.3,130.53 116.4,130.45 117,130.5" fill="none" stroke="#3f4763" stroke-width="1.0" stroke-linejoin="round" stroke-linecap="round" />
<path d="M220,130.5 C221,130.45 224,130.95 226,130.2 C228,129.45 230.33,127.53 232,126 C233.67,124.47 234.85,122.42 236,121 C237.15,119.58 238.07,119.17 238.9,117.5 C239.73,115.83 240.33,113.08 241,111 C241.67,108.92 242.3,108.17 242.9,105 C243.5,101.83 244.08,96.17 244.6,92 C245.12,87.83 245.47,86.17 246,80 C246.53,73.83 247.22,61.33 247.8,55 C248.38,48.67 249,43.5 249.5,42 C250,40.5 250.38,42.67 250.8,46 C251.22,49.33 251.59,56.33 252,62 C252.41,67.67 252.88,72.83 253.25,80 C253.62,87.17 253.89,98.33 254.25,105 C254.61,111.67 254.98,116.25 255.4,120 C255.82,123.75 256.23,125.8 256.75,127.5 C257.27,129.2 257.62,129.7 258.5,130.2 C259.38,130.7 261.42,130.45 262,130.5" fill="none" stroke="#c8c8c8" stroke-width="0.85" stroke-linejoin="round" stroke-linecap="round" />
<path d="M228,130.5 C228.83,130.38 231.67,130.02 233,129.8 C234.33,129.58 234.6,129.83 236,129.2 C237.4,128.57 239.98,127.2 241.4,126 C242.82,124.8 243.47,123.42 244.5,122 C245.53,120.58 246.72,119.33 247.6,117.5 C248.48,115.67 249.17,113.08 249.8,111 C250.43,108.92 250.72,108.08 251.4,105 C252.08,101.92 253.1,97 253.9,92.5 C254.7,88 255.48,83.08 256.2,78 C256.92,72.92 257.61,66.1 258.2,62 C258.79,57.9 259.28,54.07 259.75,53.4 C260.22,52.73 260.62,55.23 261,58 C261.38,60.77 261.7,65.5 262,70 C262.3,74.5 262.55,79.17 262.8,85 C263.05,90.83 263.22,99.58 263.5,105 C263.78,110.42 264.08,113.75 264.5,117.5 C264.92,121.25 265.42,125.42 266,127.5 C266.58,129.58 267,129.5 268,130 C269,130.5 271.33,130.42 272,130.5" fill="none" stroke="#5db845" stroke-width="1.0" stroke-linejoin="round" stroke-linecap="round" />
<path d="M228,130.5 C228.83,130.38 231.67,130.02 233,129.8 C234.33,129.58 234.6,129.83 236,129.2 C237.4,128.57 239.98,127.2 241.4,126 C242.82,124.8 243.47,123.42 244.5,122 C245.53,120.58 246.72,119.33 247.6,117.5 C248.48,115.67 249.17,113.08 249.8,111 C250.43,108.92 250.72,108.08 251.4,105 C252.08,101.92 253.13,95.83 253.9,92.5 C254.67,89.17 255.22,87.03 256,85 C256.78,82.97 257.9,80.13 258.6,80.3 C259.3,80.47 259.77,82.72 260.2,86 C260.63,89.28 260.82,95.67 261.2,100 C261.58,104.33 262.05,108.92 262.5,112 C262.95,115.08 263.4,116.08 263.9,118.5 C264.4,120.92 264.9,124.62 265.5,126.5 C266.1,128.38 266.75,129.13 267.5,129.8 C268.25,130.47 269.58,130.38 270,130.5" fill="none" stroke="#3f4763" stroke-width="1.0" stroke-linejoin="round" stroke-linecap="round" />
<path d="M228,130.5 C228.83,130.38 231.67,130.02 233,129.8 C234.33,129.58 234.6,129.83 236,129.2 C237.4,128.57 239.98,127.2 241.4,126 C242.82,124.8 243.47,123.42 244.5,122 C245.53,120.58 246.72,119.33 247.6,117.5 C248.48,115.67 249.17,113.08 249.8,111 C250.43,108.92 250.72,108.08 251.4,105 C252.08,101.92 253.2,96.67 253.9,92.5 C254.6,88.33 255.05,83.75 255.6,80 C256.15,76.25 256.7,72.47 257.2,70 C257.7,67.53 258.17,65.53 258.6,65.2 C259.03,64.87 259.43,66.03 259.8,68 C260.17,69.97 260.48,73 260.8,77 C261.12,81 261.45,87.33 261.75,92 C262.05,96.67 262.24,100.75 262.6,105 C262.96,109.25 263.38,113.75 263.9,117.5 C264.42,121.25 265.15,125.43 265.75,127.5 C266.35,129.57 266.79,129.4 267.5,129.9 C268.21,130.4 269.58,130.4 270,130.5" fill="none" stroke="#c8193c" stroke-width="1.0" stroke-linejoin="round" stroke-linecap="round" />
<path d="M372,130.5 C373,130.43 376,130.85 378,130.1 C380,129.35 382.33,127.43 384,126 C385.67,124.57 386.75,122.92 388,121.5 C389.25,120.08 390.58,119.25 391.5,117.5 C392.42,115.75 392.88,113.08 393.5,111 C394.12,108.92 394.67,108.17 395.25,105 C395.83,101.83 396.48,96.17 397,92 C397.52,87.83 397.85,85.33 398.4,80 C398.95,74.67 399.57,65.83 400.3,60 C401.03,54.17 402.1,46.67 402.75,45 C403.4,43.33 403.81,46.67 404.2,50 C404.59,53.33 404.88,60 405.1,65 C405.32,70 405.35,74.17 405.5,80 C405.65,85.83 405.83,93.75 406,100 C406.17,106.25 406.25,113.42 406.5,117.5 C406.75,121.58 407.12,122.67 407.5,124.5 C407.88,126.33 408.17,127.5 408.75,128.5 C409.33,129.5 410.62,130.17 411,130.5" fill="none" stroke="#c8c8c8" stroke-width="0.85" stroke-linejoin="round" stroke-linecap="round" />
<path d="M380,130.5 C381,130.42 384.33,130.25 386,130 C387.67,129.75 388.67,129.5 390,129 C391.33,128.5 392.83,128 394,127 C395.17,126 396.07,124.58 397,123 C397.93,121.42 398.77,119.5 399.6,117.5 C400.43,115.5 401.27,113.08 402,111 C402.73,108.92 403.25,108.08 404,105 C404.75,101.92 405.83,96 406.5,92.5 C407.17,89 407.48,86.37 408,84 C408.52,81.63 409.17,78.88 409.6,78.3 C410.03,77.72 410.22,78.13 410.6,80.5 C410.98,82.87 411.42,88.42 411.9,92.5 C412.38,96.58 412.94,100.83 413.5,105 C414.06,109.17 414.7,114.08 415.25,117.5 C415.8,120.92 416.28,123.42 416.8,125.5 C417.32,127.58 417.7,129.17 418.4,130 C419.1,130.83 420.57,130.42 421,130.5" fill="none" stroke="#3f4763" stroke-width="1.0" stroke-linejoin="round" stroke-linecap="round" />
<path d="M380,130.5 C381,130.42 384.33,130.25 386,130 C387.67,129.75 388.67,129.67 390,129 C391.33,128.33 392.75,127.17 394,126 C395.25,124.83 396.35,123.42 397.5,122 C398.65,120.58 399.98,119.33 400.9,117.5 C401.82,115.67 402.38,113.08 403,111 C403.62,108.92 403.92,108.08 404.6,105 C405.28,101.92 406.37,96.67 407.1,92.5 C407.83,88.33 408.43,84.08 409,80 C409.57,75.92 410.04,71.08 410.5,68 C410.96,64.92 411.4,61.83 411.75,61.5 C412.1,61.17 412.34,63.75 412.6,66 C412.86,68.25 413.03,72.67 413.3,75 C413.57,77.33 413.97,75.83 414.25,80 C414.53,84.17 414.67,93.75 415,100 C415.33,106.25 415.83,113.17 416.25,117.5 C416.67,121.83 417.04,123.92 417.5,126 C417.96,128.08 418.25,129.25 419,130 C419.75,130.75 421.5,130.42 422,130.5" fill="none" stroke="#c8193c" stroke-width="1.0" stroke-linejoin="round" stroke-linecap="round" />
<path d="M380,130.5 C381,130.42 384.33,130.25 386,130 C387.67,129.75 388.67,129.67 390,129 C391.33,128.33 392.75,127.17 394,126 C395.25,124.83 396.35,123.42 397.5,122 C398.65,120.58 399.98,119.33 400.9,117.5 C401.82,115.67 402.38,113.08 403,111 C403.62,108.92 403.92,108.08 404.6,105 C405.28,101.92 406.37,97 407.1,92.5 C407.83,88 408.38,82.92 409,78 C409.62,73.08 410.28,66.7 410.8,63 C411.32,59.3 411.7,56.3 412.1,55.8 C412.5,55.3 412.88,57.3 413.2,60 C413.52,62.7 413.77,67.83 414,72 C414.23,76.17 414.38,80.33 414.6,85 C414.82,89.67 414.98,94.58 415.3,100 C415.62,105.42 416.08,113.17 416.5,117.5 C416.92,121.83 417.33,123.92 417.8,126 C418.27,128.08 418.6,129.25 419.3,130 C420,130.75 421.55,130.42 422,130.5" fill="none" stroke="#5db845" stroke-width="1.0" stroke-linejoin="round" stroke-linecap="round" />
<rect x="64.6" y="30.9" width="100.2" height="100.1" fill="none" stroke="#000" stroke-width="1.5"/>
<line x1="65.4" y1="130.45" x2="164" y2="130.45" stroke="#5db845" stroke-width="0.9" />
<rect x="217.7" y="30.9" width="99.7" height="100.1" fill="none" stroke="#000" stroke-width="1.5"/>
<line x1="218.5" y1="130.45" x2="316.6" y2="130.45" stroke="#5db845" stroke-width="0.9" />
<rect x="370" y="30.9" width="100.3" height="100.1" fill="none" stroke="#000" stroke-width="1.5"/>
<line x1="370.8" y1="130.45" x2="469.5" y2="130.45" stroke="#5db845" stroke-width="0.9" />
<text x="9.23" y="199.75" font-size="16.3" font-weight="bold" textLength="10.77" lengthAdjust="spacingAndGlyphs" fill="#000" >B</text>
<text x="28.71" y="210.7" font-size="12.97" font-weight="bold" textLength="4.73" lengthAdjust="spacingAndGlyphs" fill="#000" >i</text>
<text x="266.35" y="210.7" font-size="12.97" font-weight="bold" textLength="11.35" lengthAdjust="spacingAndGlyphs" fill="#000" >iii</text>
<text x="27.22" y="357.8" font-size="12.97" font-weight="bold" textLength="7.77" lengthAdjust="spacingAndGlyphs" fill="#000" >ii</text>
<text x="266.43" y="357.8" font-size="12.97" font-weight="bold" textLength="10.32" lengthAdjust="spacingAndGlyphs" fill="#000" >iv</text>
<line x1="64.5" y1="208.5" x2="64.5" y2="318.8" stroke="#111" stroke-width="1.45" />
<line x1="60.5" y1="214.4" x2="64.5" y2="214.4" stroke="#111" stroke-width="1.4" />
<text x="56.2" y="217.5" font-size="8.8" text-anchor="end" fill="#231f20" >0</text>
<line x1="60.5" y1="237.7" x2="64.5" y2="237.7" stroke="#111" stroke-width="1.4" />
<text x="56.2" y="240.8" font-size="8.8" text-anchor="end" fill="#231f20" >20</text>
<line x1="60.5" y1="261" x2="64.5" y2="261" stroke="#111" stroke-width="1.4" />
<text x="56.2" y="264.1" font-size="8.8" text-anchor="end" fill="#231f20" >40</text>
<line x1="60.5" y1="284.3" x2="64.5" y2="284.3" stroke="#111" stroke-width="1.4" />
<text x="56.2" y="287.4" font-size="8.8" text-anchor="end" fill="#231f20" >60</text>
<line x1="60.5" y1="307.6" x2="64.5" y2="307.6" stroke="#111" stroke-width="1.4" />
<text x="56.2" y="310.7" font-size="8.8" text-anchor="end" fill="#231f20" >80</text>
<line x1="63.9" y1="318.2" x2="208" y2="318.2" stroke="#111" stroke-width="1.45" />
<line x1="65.8" y1="318.2" x2="65.8" y2="321.8" stroke="#111" stroke-width="1.4" />
<text x="65.8" y="334.3" font-size="8.8" text-anchor="middle" fill="#231f20" >0</text>
<line x1="100.55" y1="318.2" x2="100.55" y2="321.8" stroke="#111" stroke-width="1.4" />
<text x="100.55" y="334.3" font-size="8.8" text-anchor="middle" fill="#231f20" >100</text>
<line x1="135.3" y1="318.2" x2="135.3" y2="321.8" stroke="#111" stroke-width="1.4" />
<text x="135.3" y="334.3" font-size="8.8" text-anchor="middle" fill="#231f20" >200</text>
<line x1="170.05" y1="318.2" x2="170.05" y2="321.8" stroke="#111" stroke-width="1.4" />
<text x="170.05" y="334.3" font-size="8.8" text-anchor="middle" fill="#231f20" >300</text>
<line x1="204.8" y1="318.2" x2="204.8" y2="321.8" stroke="#111" stroke-width="1.4" />
<text x="204.8" y="334.3" font-size="8.8" text-anchor="middle" fill="#231f20" >400</text>
<text x="116.98" y="349.8" font-size="10.62" textLength="39.83" lengthAdjust="spacingAndGlyphs" fill="#231f20" >Time / sec</text>
<text x="0" y="0" font-size="11.03" textLength="59.11" lengthAdjust="spacingAndGlyphs" fill="#231f20" transform="translate(39.1 292.82) rotate(-90)" >% aggregation</text>
<line x1="78.9" y1="214.8" x2="202" y2="214.8" stroke="#3a3a3a" stroke-width="1.5" stroke-dasharray="1.05 1.83"/>
<polyline points="66.75,214.5 67.18,214.51 67.75,214.51 68.64,214.55 70,214.7 70.5,214.76 71.03,214.83 71.61,214.91 72.23,214.99 72.88,215.07 73.57,215.17 74.29,215.27 75.04,215.38 75.81,215.49 76.61,215.62 77.43,215.75 78.27,215.89 79.13,216.04 80,216.2 80.6,216.31 81.21,216.44 81.84,216.57 82.48,216.7 83.14,216.84 83.81,216.99 84.5,217.14 85.19,217.3 85.89,217.46 86.6,217.62 87.32,217.78 88.05,217.94 88.77,218.11 89.5,218.27 90.24,218.43 90.97,218.58 91.7,218.74 92.43,218.89 93.16,219.03 93.88,219.17 94.6,219.3 95.28,219.42 95.96,219.54 96.65,219.66 97.33,219.77 98.01,219.89 98.7,220 99.39,220.11 100.07,220.22 100.76,220.32 101.46,220.43 102.15,220.53 102.85,220.63 103.55,220.73 104.25,220.83 104.95,220.93 105.66,221.03 106.38,221.13 107.09,221.22 107.81,221.32 108.54,221.41 109.27,221.51 110,221.6 110.68,221.69 111.36,221.77 112.04,221.85 112.73,221.94 113.42,222.02 114.11,222.1 114.81,222.18 115.51,222.26 116.21,222.34 116.92,222.42 117.63,222.49 118.34,222.57 119.05,222.64 119.76,222.72 120.48,222.79 121.2,222.86 121.92,222.93 122.64,223 123.37,223.07 124.09,223.14 124.82,223.21 125.54,223.27 126.27,223.34 127,223.4 127.7,223.46 128.39,223.52 129.08,223.58 129.77,223.63 130.45,223.69 131.13,223.74 131.82,223.79 132.5,223.85 133.18,223.9 133.87,223.95 134.56,224 135.25,224.04 135.95,224.09 136.65,224.14 137.36,224.18 138.08,224.23 138.81,224.27 139.54,224.32 140.28,224.36 141.04,224.4 141.8,224.44 142.58,224.48 143.37,224.52 144.18,224.56 145,224.6 145.64,224.63 146.31,224.66 147.01,224.69 147.73,224.71 148.48,224.74 149.24,224.77 150.02,224.79 150.82,224.82 151.63,224.85 152.44,224.87 153.27,224.9 154.1,224.92 154.93,224.94 155.76,224.97 156.59,224.99 157.41,225.01 158.23,225.04 159.04,225.06 159.84,225.08 160.62,225.1 161.39,225.12 162.13,225.14 162.86,225.16 163.56,225.17 164.23,225.19 164.88,225.21 165.5,225.22 166.08,225.24 166.62,225.25 167.13,225.26 167.6,225.28 168.02,225.29 168.4,225.3" fill="none" stroke="#b3123c" stroke-width="1.15" stroke-linejoin="round"/>
<polyline points="66.75,214.5 67.18,214.5 67.74,214.5 68.4,214.49 69.15,214.48 69.94,214.47 70.77,214.48 71.61,214.49 72.42,214.51 73.2,214.55 73.9,214.6 74.7,214.69 75.45,214.81 76.18,214.94 76.9,215.09 77.62,215.26 78.37,215.43 79.15,215.61 80,215.8 80.66,215.94 81.36,216.09 82.08,216.25 82.83,216.41 83.59,216.58 84.35,216.75 85.11,216.93 85.87,217.1 86.6,217.27 87.32,217.44 88,217.6 88.82,217.79 89.63,217.97 90.44,218.14 91.23,218.31 92,218.48 92.73,218.66 93.41,218.86 94.04,219.07 94.6,219.3 95.41,219.73 96.01,220.18 96.49,220.68 96.95,221.27 97.5,222 97.85,222.47 98.2,222.98 98.55,223.52 98.91,224.09 99.28,224.7 99.65,225.34 100.03,226 100.41,226.69 100.8,227.4 101.1,227.95 101.4,228.52 101.71,229.11 102.03,229.71 102.34,230.32 102.66,230.96 102.98,231.6 103.31,232.26 103.63,232.93 103.96,233.61 104.28,234.3 104.6,235 104.88,235.63 105.17,236.29 105.47,236.99 105.78,237.71 106.08,238.45 106.39,239.19 106.69,239.93 106.99,240.66 107.28,241.37 107.56,242.05 107.82,242.69 108.07,243.28 108.3,243.82 108.5,244.3 109.03,245.5 109.37,246.21 109.65,246.74 110,247.4 110.35,248.07 110.72,248.76 111.1,249.46 111.53,250.21 112,250.97 112.38,251.76 112.78,252.53 113.22,252.75 113.66,253.09 114.11,253.95 114.56,254.58 115,255.69 115.58,256.53 116.13,257.11 116.69,257.6 117.3,258.2 118,258.27 118.56,258.73 119.15,258.89 119.77,259.91 120.42,259.77 121.1,260.65 121.79,260.53 122.5,261.26 123.13,261.4 123.77,261.7 124.42,262.43 125.09,262.12 125.78,262.14 126.5,263.13 127.23,263.33 128,263.12 128.6,263.97 129.18,264.42 129.74,263.88 130.31,263.99 130.91,263.81 131.55,263.96 132.26,264.39 133.06,264.19 133.97,264.67 135,264.31 135.54,264.24 136.1,264.87 136.69,264.78 137.3,264.77 137.94,264.96 138.59,264.94 139.27,264.86 139.96,264.47 140.67,264.98 141.4,265.49 142.14,265.76 142.89,265.59 143.65,265.21 144.43,265.03 145.21,265.28 146,265.39 146.79,264.89 147.59,264.77 148.39,264.84 149.2,265.03 150,265.43 150.67,265.32 151.37,264.8 152.1,265.34 152.87,265.21 153.65,265.24 154.45,264.96 155.28,265.02 156.11,265.02 156.95,265.4 157.79,264.92 158.64,265.12 159.48,264.85 160.31,265.24 161.14,264.77 161.94,264.77 162.73,264.84 163.5,265.16 164.24,264.74 164.95,264.93 165.63,264.78 166.26,264.77 166.86,264.96 167.41,265.54 167.91,265.35 168.36,265.73 168.75,265.13" fill="none" stroke="#b3123c" stroke-width="1.15" stroke-linejoin="round"/>
<polyline points="66.75,214.5 67.18,214.51 67.73,214.52 68.39,214.53 69.14,214.54 69.94,214.55 70.79,214.56 71.65,214.58 72.51,214.59 73.35,214.61 74.14,214.63 74.86,214.65 75.48,214.67 76,214.7 77.33,214.76 77.92,214.85 78.5,215.2 79,215.57 79.49,216.02 79.98,216.58 80.48,217.23 81,218 81.33,218.52 81.65,219.04 81.98,219.6 82.31,220.21 82.66,220.88 83.02,221.64 83.4,222.51 83.8,223.5 84,224.03 84.22,224.6 84.44,225.22 84.68,225.87 84.92,226.56 85.16,227.26 85.41,227.99 85.66,228.73 85.91,229.48 86.15,230.23 86.4,230.97 86.64,231.71 86.87,232.42 87.09,233.12 87.31,233.78 87.51,234.41 87.7,235 87.97,235.85 88.23,236.66 88.47,237.44 88.69,238.18 88.9,238.89 89.11,239.57 89.3,240.24 89.48,240.89 89.66,241.53 89.83,242.16 90,242.58 90.2,243.61 90.38,244.46 90.54,245.37 90.7,245.54 90.85,246 90.99,246.48 91.13,247.12 91.26,248.26 91.4,248.65 91.52,249.51 91.63,249.99 91.74,250.63 91.84,251.41 91.94,252.51 92.05,253.21 92.15,253.39 92.26,254.09 92.38,254.71 92.5,256.08 92.6,256.95 92.7,257.73 92.81,258.49 92.92,259.16 93.03,260.05 93.14,260.72 93.25,260.94 93.37,261.94 93.49,262.48 93.61,263.33 93.74,263.92 93.87,264.41 94,264.9 94.17,265.68 94.34,266.35 94.5,266.88 94.67,268.15 94.84,269.11 95.03,270.1 95.24,270.65 95.46,271.11 95.72,271.79 96,271.85 96.39,272.73 96.81,273.2 97.27,273.42 97.75,273.77 98.27,274.44 98.81,274.75 99.39,275.33 100,276 100.52,276.31 101.07,276.44 101.65,277.05 102.26,277.33 102.88,277.69 103.5,278.03 104.14,278.55 104.77,278.73 105.39,279.52 106,280.34 106.64,280.41 107.25,280.88 107.83,281.43 108.42,281.02 109.02,281.03 109.67,281.75 110.36,282.27 111.14,282.5 112,282.34 112.55,282.53 113.11,283.14 113.68,283.55 114.26,283.79 114.86,283.47 115.48,284.01 116.12,283.95 116.79,284.33 117.49,284.11 118.22,284.86 118.99,285 119.8,285.29 120.65,285.08 121.55,285.45 122.5,285.7 123.05,285.85 123.6,285.77 124.17,286.13 124.75,286.01 125.34,285.98 125.94,285.9 126.56,286.39 127.18,286.18 127.81,286.24 128.46,286.19 129.12,286.74 129.79,287 130.47,287.17 131.16,286.87 131.86,287.14 132.58,287.24 133.31,287.13 134.05,287.05 134.8,287.96 135.56,287.69 136.34,287.77 137.12,287.84 137.92,288.22 138.74,288 139.56,288.3 140.4,288.4 141.25,288.93 141.86,288.47 142.49,288.57 143.15,288.8 143.84,289.38 144.55,289.3 145.27,289.26 146.02,289.46 146.78,289.26 147.56,288.96 148.35,289.27 149.16,289.83 149.97,289.99 150.79,289.68 151.61,289.94 152.44,290.26 153.27,289.92 154.1,290.09 154.93,289.99 155.76,289.88 156.58,289.9 157.4,289.87 158.2,290.02 159,289.84 159.78,290.11 160.55,290 161.3,290.58 162.03,290.75 162.74,290.33 163.43,290.84 164.1,290.6 164.74,290.76 165.36,290.94 165.95,290.85 166.5,290.79 167.02,290.91 167.51,290.72 167.96,291.3 168.38,290.92 168.75,291.4" fill="none" stroke="#b3123c" stroke-width="1.15" stroke-linejoin="round"/>
<polyline points="66.75,214.5 67.24,214.5 67.93,214.48 68.75,214.47 69.63,214.46 70.51,214.47 71.32,214.52 72,214.6 72.91,214.77 73.64,214.99 74.3,215.37 75,216 75.38,216.43 75.75,216.93 76.12,217.48 76.5,218.09 76.88,218.75 77.25,219.45 77.62,220.21 78,221 78.25,221.56 78.51,222.16 78.76,222.79 79.02,223.44 79.28,224.12 79.53,224.81 79.79,225.51 80.04,226.22 80.29,226.93 80.53,227.63 80.77,228.32 81,229 81.25,229.73 81.5,230.45 81.74,231.18 81.98,231.91 82.22,232.64 82.45,233.36 82.67,234.09 82.89,234.82 83.1,235.55 83.3,236.27 83.5,237 83.68,237.73 83.85,238.47 84,238.82 84.15,239.96 84.29,240.85 84.43,241.95 84.56,242.19 84.71,242.66 84.86,243.73 85.02,244.53 85.2,244.91 85.41,245.87 85.61,246.38 85.82,247.34 86.04,247.48 86.27,247.97 86.51,249.23 86.76,249.67 87.02,250.16 87.3,251.36 87.6,252.22 87.81,252.34 88.03,253.1 88.25,253.91 88.49,254.14 88.73,255.07 88.97,255.34 89.22,256.03 89.48,256.47 89.74,257.16 90.01,258.63 90.28,259.14 90.55,260.34 90.83,260.75 91.11,261.48 91.4,262.47 91.66,263.07 91.92,263.13 92.18,263.98 92.45,264.8 92.72,265.11 93,265.54 93.28,266.89 93.56,267.56 93.85,267.93 94.14,268.72 94.43,269.23 94.72,270.4 95.02,271.02 95.31,271.26 95.61,272.41 95.9,272.56 96.2,273.11 96.56,273.54 96.92,274.8 97.28,275.14 97.64,276.04 98.01,276.37 98.37,277.22 98.74,278.16 99.12,278.76 99.5,279.27 99.88,279.83 100.28,280.34 100.68,281.01 101.08,281.11 101.5,281.79 102,282.22 102.51,283.34 103.03,284.24 103.56,284.08 104.1,284.32 104.64,285.24 105.2,285.8 105.75,285.74 106.31,286.6 106.87,287.47 107.44,287.57 108,287.72 108.68,288.24 109.36,289.03 110.05,288.9 110.74,289.01 111.44,289.07 112.14,289.65 112.85,289.9 113.56,289.91 114.28,290.14 115,290.01 115.68,290.3 116.29,291.18 116.86,291.27 117.42,291.06 118.02,291.65 118.67,291.41 119.41,291.24 120.27,291.01 121.29,291.09 122.5,291.28 123,291.39 123.51,292.13 124.04,291.94 124.59,291.87 125.16,292.24 125.74,292.78 126.34,292.48 126.96,292.85 127.59,292.69 128.24,292.85 128.9,293.02 129.58,293.51 130.27,293.61 130.98,293.47 131.7,293.79 132.43,293.52 133.18,293.45 133.94,294.05 134.71,293.98 135.49,294.22 136.28,293.92 137.08,294.42 137.9,294.41 138.72,294.08 139.55,294.64 140.4,294.49 141.25,294.32 141.86,294.17 142.49,293.96 143.15,293.97 143.84,294.49 144.55,294.22 145.27,294.22 146.02,294.44 146.78,294.66 147.56,294.62 148.35,295.03 149.16,294.73 149.97,294.7 150.79,294.76 151.61,294.52 152.44,294.5 153.27,294.44 154.1,295 154.93,294.72 155.76,295.11 156.58,294.88 157.4,295.2 158.2,295.39 159,295.19 159.78,295.68 160.55,295.67 161.3,295.57 162.03,295.03 162.74,295.12 163.43,295.04 164.1,295.22 164.74,295.78 165.36,296 165.95,295.32 166.5,295.61 167.02,296.01 167.51,295.83 167.96,295.31 168.38,295.82 168.75,295.64" fill="none" stroke="#b3123c" stroke-width="1.15" stroke-linejoin="round"/>
<polyline points="66.75,214.5 67.25,214.5 67.95,214.5 68.78,214.49 69.67,214.5 70.55,214.51 71.35,214.54 72,214.6 73.04,214.72 73.77,214.93 74.5,215.5 74.91,215.97 75.31,216.53 75.72,217.17 76.13,217.92 76.55,218.76 77,219.7 77.26,220.26 77.52,220.85 77.8,221.47 78.08,222.12 78.37,222.8 78.66,223.51 78.94,224.24 79.22,225 79.49,225.78 79.75,226.58 80,227.4 80.18,228.03 80.35,228.7 80.53,229.39 80.7,230.11 80.87,230.85 81.03,231.6 81.2,232.36 81.35,233.12 81.51,233.88 81.66,234.63 81.8,235.36 81.93,236.06 82.06,236.74 82.19,237.39 82.3,238 82.45,238.84 82.56,239.6 82.66,240.3 82.74,240.96 82.81,241.6 82.88,242.23 82.95,242.87 83.04,243.53 83.16,244.24 83.3,245 83.43,245.63 83.58,246.28 83.73,246.96 83.9,247.65 84.08,248.83 84.26,248.82 84.44,249.91 84.63,250.23 84.81,251.58 85,251.64 85.17,252.87 85.34,253.63 85.5,254.5 85.68,255.52 85.84,255.64 86,256.16 86.15,257.16 86.29,257.59 86.44,258.15 86.6,258.74 86.75,260.03 86.92,261.04 87.1,261.82 87.3,261.98 87.51,263.12 87.73,263.63 87.96,263.96 88.19,264.69 88.44,265.37 88.69,265.71 88.94,266.7 89.2,267.32 89.47,268.17 89.73,269.27 90,269.85 90.3,270.27 90.61,271.27 90.92,272.23 91.24,272.52 91.56,273.44 91.89,273.28 92.22,273.62 92.55,274.11 92.87,275.4 93.2,276.07 93.6,276.82 94.01,277.06 94.41,277.67 94.81,278.64 95.22,278.61 95.64,278.89 96.06,279.24 96.5,280.12 96.95,281.23 97.4,281.78 97.86,282.19 98.32,282.78 98.8,283.03 99.29,284.2 99.79,284.46 100.3,284.73 100.83,285.21 101.37,286.21 101.93,286.46 102.49,287.42 103.07,287.57 103.64,288 104.22,288.08 104.8,289.18 105.37,289.86 105.94,290.11 106.51,290.11 107.09,290.7 107.67,291.1 108.26,291.97 108.87,292.68 109.5,293.01 110.14,292.88 110.77,292.71 111.42,293.61 112.08,294.23 112.76,293.88 113.47,294.16 114.21,294.41 115,295.16 115.56,294.65 116.09,294.5 116.6,295.28 117.11,295.48 117.64,295.55 118.22,295.98 118.86,296.09 119.59,296.34 120.42,296.11 121.39,295.93 122.5,295.88 123,296.16 123.51,296.66 124.04,296.7 124.59,296.73 125.16,297.07 125.74,297.37 126.34,297.47 126.96,297.28 127.59,297.75 128.24,298.02 128.9,298.3 129.58,298.5 130.27,297.77 130.98,298.12 131.7,298.03 132.43,298.07 133.18,298.28 133.94,298.07 134.71,298.12 135.49,298.94 136.28,298.74 137.08,299.28 137.9,299.37 138.72,299.1 139.55,299.02 140.4,299.32 141.25,299.61 141.86,299.41 142.49,299.07 143.15,299.05 143.84,299.76 144.55,300.02 145.27,299.57 146.02,300.11 146.78,300.15 147.56,299.97 148.35,300.48 149.16,300.01 149.97,299.77 150.79,299.94 151.61,300.46 152.44,300.56 153.27,300.59 154.1,301.06 154.93,300.82 155.76,301.13 156.58,300.53 157.4,301.05 158.2,300.72 159,301.08 159.78,301.48 160.55,301.53 161.3,301.51 162.03,301.5 162.74,301.72 163.43,301.48 164.1,301.25 164.74,301.49 165.36,301.59 165.95,301.27 166.5,301.54 167.02,301.63 167.51,301.39 167.96,301.84 168.38,302.15 168.75,301.88" fill="none" stroke="#b3123c" stroke-width="1.15" stroke-linejoin="round"/>
<polyline points="66.2,214.6 66.6,210.6 67.2,214.5" fill="none" stroke="#b3123c" stroke-width="1.0" stroke-linejoin="round" />
<text x="169.74" y="229.1" font-size="7.43" textLength="25.78" lengthAdjust="spacingAndGlyphs" fill="#231f20" >330 nM</text>
<text x="169.82" y="268.8" font-size="7.57" textLength="25.7" lengthAdjust="spacingAndGlyphs" fill="#231f20" >165 nM</text>
<text x="169.65" y="292.2" font-size="7.29" textLength="21.61" lengthAdjust="spacingAndGlyphs" fill="#231f20" >83 nM</text>
<text x="169.69" y="299.6" font-size="7.29" textLength="21.57" lengthAdjust="spacingAndGlyphs" fill="#231f20" >33 nM</text>
<text x="169.45" y="306.6" font-size="7.43" textLength="13.87" lengthAdjust="spacingAndGlyphs" fill="#231f20" >PBS</text>
<line x1="301.2" y1="216.3" x2="301.2" y2="319.6" stroke="#111" stroke-width="1.45" />
<line x1="297.2" y1="222.5" x2="301.2" y2="222.5" stroke="#111" stroke-width="1.4" />
<text x="292" y="225.6" font-size="8.8" text-anchor="end" fill="#231f20" >0</text>
<line x1="297.2" y1="244" x2="301.2" y2="244" stroke="#111" stroke-width="1.4" />
<text x="292" y="247.1" font-size="8.8" text-anchor="end" fill="#231f20" >20</text>
<line x1="297.2" y1="265.5" x2="301.2" y2="265.5" stroke="#111" stroke-width="1.4" />
<text x="292" y="268.6" font-size="8.8" text-anchor="end" fill="#231f20" >40</text>
<line x1="297.2" y1="287" x2="301.2" y2="287" stroke="#111" stroke-width="1.4" />
<text x="292" y="290.1" font-size="8.8" text-anchor="end" fill="#231f20" >60</text>
<line x1="297.2" y1="308.5" x2="301.2" y2="308.5" stroke="#111" stroke-width="1.4" />
<text x="292" y="311.6" font-size="8.8" text-anchor="end" fill="#231f20" >80</text>
<line x1="300.6" y1="319" x2="444.5" y2="319" stroke="#111" stroke-width="1.45" />
<line x1="302.5" y1="319" x2="302.5" y2="322.6" stroke="#111" stroke-width="1.4" />
<text x="302.5" y="334.3" font-size="8.8" text-anchor="middle" fill="#231f20" >0</text>
<line x1="337.1" y1="319" x2="337.1" y2="322.6" stroke="#111" stroke-width="1.4" />
<text x="337.1" y="334.3" font-size="8.8" text-anchor="middle" fill="#231f20" >100</text>
<line x1="371.7" y1="319" x2="371.7" y2="322.6" stroke="#111" stroke-width="1.4" />
<text x="371.7" y="334.3" font-size="8.8" text-anchor="middle" fill="#231f20" >200</text>
<line x1="406.3" y1="319" x2="406.3" y2="322.6" stroke="#111" stroke-width="1.4" />
<text x="406.3" y="334.3" font-size="8.8" text-anchor="middle" fill="#231f20" >300</text>
<line x1="440.9" y1="319" x2="440.9" y2="322.6" stroke="#111" stroke-width="1.4" />
<text x="440.9" y="334.3" font-size="8.8" text-anchor="middle" fill="#231f20" >400</text>
<text x="353.28" y="349.8" font-size="10.76" textLength="39.53" lengthAdjust="spacingAndGlyphs" fill="#231f20" >Time / sec</text>
<text x="0" y="0" font-size="11.03" textLength="59.11" lengthAdjust="spacingAndGlyphs" fill="#231f20" transform="translate(275.1 296.82) rotate(-90)" >% aggregation</text>
<line x1="303.5" y1="222.5" x2="438.2" y2="222.5" stroke="#3a3a3a" stroke-width="1.4" stroke-dasharray="1.05 1.83"/>
<polyline points="302.75,223 303.11,223 303.49,223 303.89,223 304.31,222.93 304.74,222.81 305.19,222.71 305.66,223.11 306.15,223.1 306.65,223.17 307.16,223.12 307.7,223 308.24,223.14 308.8,223.13 309.38,223.24 309.97,223.22 310.57,223.33 311.18,223.14 311.81,222.87 312.45,222.74 313.1,223.01 313.77,222.82 314.44,223.02 315.12,223.09 315.82,222.8 316.52,223.09 317.24,222.78 317.96,223.13 318.69,223.29 319.43,222.99 320.18,223.15 320.94,223.24 321.7,222.91 322.47,223.08 323.25,222.84 324.03,223.19 324.82,223.23 325.61,223.43 326.41,222.97 327.21,222.91 328.02,223.05 328.83,223.12 329.65,222.9 330.47,223.21 331.29,223.35 332.11,223.09 332.93,222.86 333.76,223.07 334.58,223.01 335.41,223.14 336.24,223.1 337.07,223.03 337.9,222.76 338.72,222.7 339.55,222.87 340.37,223.11 341.19,223.05 342.01,223.22 342.83,223.18 343.64,223.36 344.46,223.32 345.26,223.1 346.06,222.88 346.86,222.73 347.66,222.64 348.44,223.08 349.22,223.32 350,223.36 350.65,223 351.32,223.15 351.99,222.9 352.68,223.24 353.37,223.27 354.08,223.34 354.79,223.29 355.51,223.15 356.25,223.34 356.99,223.5 357.73,223.16 358.49,223.1 359.25,223.25 360.02,223.29 360.79,223.15 361.57,223.11 362.36,223.4 363.15,223.13 363.95,222.95 364.75,223.15 365.55,223.01 366.36,223.31 367.17,223.12 367.99,223.38 368.8,223.19 369.62,223.39 370.44,223.42 371.26,223.42 372.08,223.11 372.91,222.92 373.73,222.75 374.55,222.76 375.37,223.05 376.19,222.84 377.01,222.84 377.83,223.03 378.65,222.89 379.46,222.92 380.27,222.87 381.08,223.12 381.88,222.91 382.68,223.33 383.48,223.31 384.26,223.36 385.05,223.3 385.83,223.23 386.6,223.48 387.37,223.56 388.13,223.56 388.88,223.08 389.63,223.18 390.36,223.44 391.09,223.39 391.81,223.29 392.52,223.32 393.23,223.06 393.92,223.26 394.6,223.39 395.27,223.03 395.93,223.11 396.58,223.21 397.22,223.11 397.84,223.26 398.46,223.47 399.06,223.58 399.64,223.27 400.22,223.02 400.77,223.32 401.32,223.32 401.85,223.46 402.36,223.55 402.86,223.24 403.35,223.27 403.81,223.11 404.26,223.33 404.7,223.38 405.11,223.13 405.51,223.17 405.89,223.24 406.25,223.06" fill="none" stroke="#b3123c" stroke-width="1.15" stroke-linejoin="round"/>
<polyline points="302.3,223.1 302.75,217.3 303.3,223" fill="none" stroke="#b3123c" stroke-width="1.0" stroke-linejoin="round" />
<polyline points="302.75,223 303.22,223 303.87,223 304.64,223 305.46,223 306.27,223 307,223 307.8,222.95 308.6,222.84 309.37,222.76 310.11,222.78 310.8,222.95 311.44,223.31 312.03,223.8 312.59,224.39 313.13,225.07 313.65,225.8 314.02,226.35 314.38,226.92 314.73,227.53 315.06,228.18 315.39,228.87 315.7,229.61 316,230.4 316.19,230.99 316.37,231.6 316.54,232.23 316.7,232.88 316.85,233.56 317.01,234.26 317.17,234.99 317.33,235.74 317.51,236.51 317.7,237.3 317.86,237.93 318.02,238.59 318.19,239.26 318.36,239.96 318.54,240.67 318.72,241.39 318.9,242.12 319.09,242.85 319.27,243.59 319.46,244.32 319.64,245.06 319.82,245.78 320,246.5 320.18,247.22 320.35,247.94 320.53,248.67 320.71,249.4 320.88,250.13 321.06,250.86 321.24,251.59 321.42,252.31 321.59,253.03 321.77,253.74 321.95,254.44 322.12,255.13 322.3,255.8 322.51,256.58 322.72,257.36 322.93,258.12 323.14,258.87 323.35,259.61 323.55,260.35 323.76,261.06 323.97,261.77 324.18,262.46 324.39,263.14 324.6,263.8 324.85,264.58 325.1,265.33 325.34,266.06 325.59,266.76 325.84,267.45 326.09,268.13 326.35,268.82 326.62,269.5 326.9,270.2 327.2,270.91 327.5,271.62 327.82,272.33 328.15,273.03 328.48,273.74 328.81,274.44 329.14,275.14 329.47,275.82 329.8,276.5 330.12,277.23 330.44,277.69 330.77,278.37 331.09,279.01 331.41,279.87 331.73,280.59 332.06,281.33 332.38,281.67 332.7,282.23 333.11,282.75 333.51,283.38 333.92,284.09 334.32,284.51 334.73,285.05 335.16,285.74 335.6,286.29 336.12,286.72 336.63,287.3 337.16,287.89 337.71,288.09 338.32,288.75 339,289.31 339.55,289.6 340.13,289.89 340.74,290.58 341.38,290.91 342.05,291.2 342.74,291.57 343.46,292.28 344.2,292.75 344.82,293.2 345.47,293.57 346.15,293.86 346.84,294.36 347.54,294.55 348.26,294.88 348.98,295.32 349.69,295.62 350.4,296.01 351.1,296.24 351.79,296.53 352.48,296.53 353.17,296.73 353.86,296.97 354.54,297.11 355.23,297.35 355.92,297.52 356.61,297.78 357.31,298.14 358,298.32 358.69,298.5 359.38,298.6 360.07,298.76 360.76,299.18 361.45,299.35 362.14,299.5 362.85,299.47 363.55,299.75 364.27,299.74 365,299.9 365.63,300.28 366.2,300.39 366.74,300.48 367.26,300.63 367.8,300.83 368.38,300.96 369.02,300.88 369.74,300.83 370.58,301 371.56,301.15 372.7,301.3 373.22,301.65 373.77,301.84 374.36,301.76 374.98,301.9 375.63,301.91 376.31,302.17 377,302.17 377.72,302.14 378.46,302.17 379.21,302.36 379.98,302.39 380.76,302.58 381.54,302.85 382.33,302.84 383.13,302.81 383.92,303.16 384.72,303.19 385.51,303.09 386.29,303.07 387.06,303.13 387.82,303.41 388.57,303.66 389.3,303.68 390.01,303.59 390.7,303.71 391.36,304.06 392,304.08 392.84,304.32 393.7,304.45 394.55,304.22 395.41,304.43 396.26,304.56 397.11,304.61 397.94,304.57 398.77,304.73 399.57,304.64 400.36,304.76 401.12,304.86 401.85,305.14 402.55,305.28 403.22,305.14 403.85,305.18 404.44,305.1 404.98,305.38 405.47,305.52 405.91,305.38 406.3,305.47" fill="none" stroke="#b3123c" stroke-width="1.15" stroke-linejoin="round"/>
<text x="409.24" y="233.1" font-size="7.86" textLength="35.46" lengthAdjust="spacingAndGlyphs" fill="#231f20" >10-330 nM</text>
<text x="408.55" y="310.1" font-size="7.57" textLength="13.66" lengthAdjust="spacingAndGlyphs" fill="#231f20" >PBS</text>
<line x1="64.5" y1="368" x2="64.5" y2="476.85" stroke="#111" stroke-width="1.45" />
<line x1="60.5" y1="476.25" x2="64.5" y2="476.25" stroke="#111" stroke-width="1.4" />
<text x="56.2" y="479.35" font-size="8.8" text-anchor="end" fill="#231f20" >0</text>
<line x1="60.5" y1="455.4" x2="64.5" y2="455.4" stroke="#111" stroke-width="1.4" />
<text x="56.2" y="458.5" font-size="8.8" text-anchor="end" fill="#231f20" >20</text>
<line x1="60.5" y1="434.55" x2="64.5" y2="434.55" stroke="#111" stroke-width="1.4" />
<text x="56.2" y="437.65" font-size="8.8" text-anchor="end" fill="#231f20" >40</text>
<line x1="60.5" y1="413.7" x2="64.5" y2="413.7" stroke="#111" stroke-width="1.4" />
<text x="56.2" y="416.8" font-size="8.8" text-anchor="end" fill="#231f20" >60</text>
<line x1="60.5" y1="392.85" x2="64.5" y2="392.85" stroke="#111" stroke-width="1.4" />
<text x="56.2" y="395.95" font-size="8.8" text-anchor="end" fill="#231f20" >80</text>
<line x1="60.5" y1="372" x2="64.5" y2="372" stroke="#111" stroke-width="1.4" />
<text x="56.2" y="375.1" font-size="8.8" text-anchor="end" fill="#231f20" >100</text>
<line x1="63.9" y1="476.25" x2="79.5" y2="476.25" stroke="#111" stroke-width="1.45" />
<line x1="79.5" y1="472.65" x2="79.5" y2="479.85" stroke="#111" stroke-width="1.4" />
<line x1="71" y1="476.25" x2="71" y2="479.65" stroke="#111" stroke-width="1.4" />
<line x1="86.75" y1="476.25" x2="208.6" y2="476.25" stroke="#111" stroke-width="1.45" />
<line x1="86.75" y1="472.65" x2="86.75" y2="479.85" stroke="#111" stroke-width="1.4" />
<line x1="122.5" y1="476.25" x2="122.5" y2="479.65" stroke="#111" stroke-width="1.4" />
<line x1="143.7" y1="476.25" x2="143.7" y2="479.65" stroke="#111" stroke-width="1.4" />
<line x1="161.5" y1="476.25" x2="161.5" y2="479.65" stroke="#111" stroke-width="1.4" />
<line x1="195.4" y1="476.25" x2="195.4" y2="479.65" stroke="#111" stroke-width="1.4" />
<text x="70.3" y="491.2" font-size="8.8" text-anchor="middle" textLength="15.3" lengthAdjust="spacingAndGlyphs" fill="#231f20" >PBS</text>
<text x="85" y="491.2" font-size="8.8" text-anchor="middle" fill="#231f20" >10</text>
<text x="122.5" y="491.2" font-size="8.8" text-anchor="middle" fill="#231f20" >25</text>
<text x="143.7" y="491.2" font-size="8.8" text-anchor="middle" fill="#231f20" >50</text>
<text x="161.5" y="491.2" font-size="8.8" text-anchor="middle" fill="#231f20" >100</text>
<text x="195.4" y="491.2" font-size="8.8" text-anchor="middle" fill="#231f20" >500</text>
<text x="119.53" y="507.5" font-size="10.9" textLength="34.97" lengthAdjust="spacingAndGlyphs" fill="#231f20" >Nb (nM)</text>
<text x="0" y="0" font-size="12.83" textLength="109.66" lengthAdjust="spacingAndGlyphs" fill="#231f20" transform="translate(35 476.85) rotate(-90)" >Max light transmission (%)</text>
<polyline points="86.75,400.6 133.75,398.2 160,404 175.75,465.3 190,468.8" fill="none" stroke="#e39117" stroke-width="1.3" stroke-linejoin="round" />
<polyline points="86.75,401.2 133.75,396.5 160,406.5 175.75,430.8 190,424.3" fill="none" stroke="#a8102c" stroke-width="1.3" stroke-linejoin="round" />
<polyline points="86.75,402 133.75,398.8 160,399.3 175.75,423 190,467" fill="none" stroke="#4b5468" stroke-width="1.3" stroke-linejoin="round" />
<line x1="72.5" y1="400.2" x2="79.3" y2="400.2" stroke="#e39117" stroke-width="1.0" />
<line x1="72.5" y1="402.4" x2="79.3" y2="402.4" stroke="#a8102c" stroke-width="1.0" />
<line x1="72.5" y1="403.2" x2="79.3" y2="403.2" stroke="#4b5468" stroke-width="1.0" />
<line x1="72.6" y1="401" x2="72.6" y2="405.4" stroke="#4b5468" stroke-width="0.9" />
<line x1="71.3" y1="401" x2="73.9" y2="401" stroke="#4b5468" stroke-width="0.9" />
<line x1="71.3" y1="405.4" x2="73.9" y2="405.4" stroke="#4b5468" stroke-width="0.9" />
<circle cx="72.6" cy="403.4" r="1.6" fill="#4b5468"/>
<circle cx="72.6" cy="400" r="1.6" fill="#e39117"/>
<line x1="133.75" y1="389.2" x2="133.75" y2="409.6" stroke="#4b5468" stroke-width="0.9" />
<line x1="131.95" y1="389.2" x2="135.55" y2="389.2" stroke="#4b5468" stroke-width="0.9" />
<line x1="131.95" y1="409.6" x2="135.55" y2="409.6" stroke="#4b5468" stroke-width="0.9" />
<line x1="175.75" y1="413.9" x2="175.75" y2="432" stroke="#4b5468" stroke-width="0.9" />
<line x1="173.95" y1="413.9" x2="177.55" y2="413.9" stroke="#4b5468" stroke-width="0.9" />
<line x1="173.95" y1="432" x2="177.55" y2="432" stroke="#4b5468" stroke-width="0.9" />
<line x1="175.75" y1="428.5" x2="175.75" y2="433.5" stroke="#a8102c" stroke-width="0.9" />
<line x1="173.95" y1="428.5" x2="177.55" y2="428.5" stroke="#a8102c" stroke-width="0.9" />
<line x1="173.95" y1="433.5" x2="177.55" y2="433.5" stroke="#a8102c" stroke-width="0.9" />
<line x1="190" y1="421.3" x2="190" y2="427.3" stroke="#a8102c" stroke-width="0.9" />
<line x1="188.2" y1="421.3" x2="191.8" y2="421.3" stroke="#a8102c" stroke-width="0.9" />
<line x1="188.2" y1="427.3" x2="191.8" y2="427.3" stroke="#a8102c" stroke-width="0.9" />
<circle cx="133.75" cy="398.2" r="2.05" fill="#e39117"/>
<circle cx="160" cy="404" r="2.05" fill="#e39117"/>
<circle cx="175.75" cy="465.3" r="2.05" fill="#e39117"/>
<circle cx="190" cy="468.8" r="2.05" fill="#e39117"/>
<circle cx="133.75" cy="396.5" r="2.05" fill="#a8102c"/>
<circle cx="160" cy="406.5" r="2.05" fill="#a8102c"/>
<circle cx="175.75" cy="430.8" r="2.05" fill="#a8102c"/>
<circle cx="190" cy="424.3" r="2.05" fill="#a8102c"/>
<circle cx="133.75" cy="398.8" r="2.05" fill="#4b5468"/>
<circle cx="160" cy="399.3" r="2.05" fill="#4b5468"/>
<circle cx="175.75" cy="423" r="2.05" fill="#4b5468"/>
<circle cx="190" cy="467" r="2.05" fill="#4b5468"/>
<line x1="200.7" y1="369.6" x2="211.7" y2="369.6" stroke="#4b5468" stroke-width="1.2" />
<circle cx="206.2" cy="369.6" r="2.1" fill="#4b5468"/>
<text x="215.25" y="371.9" font-size="7.1" textLength="14.96" lengthAdjust="spacingAndGlyphs" fill="#231f20" >Nb2</text>
<line x1="200.7" y1="380.5" x2="211.7" y2="380.5" stroke="#a8102c" stroke-width="1.2" />
<circle cx="206.2" cy="380.5" r="2.1" fill="#a8102c"/>
<text x="215.29" y="383.05" font-size="7.1" textLength="18.3" lengthAdjust="spacingAndGlyphs" fill="#231f20" >Nb21</text>
<line x1="200.7" y1="391.6" x2="211.7" y2="391.6" stroke="#e39117" stroke-width="1.2" />
<circle cx="206.2" cy="391.6" r="2.1" fill="#e39117"/>
<text x="215.27" y="394.15" font-size="7.1" textLength="18.96" lengthAdjust="spacingAndGlyphs" fill="#231f20" >Nb35</text>
<circle cx="160.5" cy="464.2" r="0.92" fill="#e39117"/>
<circle cx="163.5" cy="464.2" r="0.92" fill="#e39117"/>
<circle cx="166.5" cy="464.2" r="0.92" fill="#e39117"/>
<circle cx="170.4" cy="437" r="0.92" fill="#a8102c"/>
<circle cx="173.4" cy="437" r="0.92" fill="#a8102c"/>
<circle cx="176.4" cy="437" r="0.92" fill="#a8102c"/>
<circle cx="195.4" cy="464.2" r="0.92" fill="#4b5468"/>
<circle cx="198.4" cy="464.2" r="0.92" fill="#4b5468"/>
<circle cx="201.4" cy="464.2" r="0.92" fill="#4b5468"/>
<circle cx="195.4" cy="470" r="0.92" fill="#e39117"/>
<circle cx="198.4" cy="470" r="0.92" fill="#e39117"/>
<circle cx="201.4" cy="470" r="0.92" fill="#e39117"/>
<circle cx="186.2" cy="416.5" r="1" fill="#a8102c"/>
<circle cx="189.8" cy="416.5" r="1" fill="#a8102c"/>
<circle cx="179.8" cy="417" r="1" fill="#4b5468"/>
<line x1="300.75" y1="368" x2="300.75" y2="476.85" stroke="#111" stroke-width="1.45" />
<line x1="296.75" y1="476.25" x2="300.75" y2="476.25" stroke="#111" stroke-width="1.4" />
<text x="292.2" y="479.35" font-size="8.8" text-anchor="end" fill="#231f20" >0</text>
<line x1="296.75" y1="450.13" x2="300.75" y2="450.13" stroke="#111" stroke-width="1.4" />
<text x="292.2" y="453.23" font-size="8.8" text-anchor="end" fill="#231f20" >20</text>
<line x1="296.75" y1="424.01" x2="300.75" y2="424.01" stroke="#111" stroke-width="1.4" />
<text x="292.2" y="427.11" font-size="8.8" text-anchor="end" fill="#231f20" >40</text>
<line x1="296.75" y1="397.89" x2="300.75" y2="397.89" stroke="#111" stroke-width="1.4" />
<text x="292.2" y="400.99" font-size="8.8" text-anchor="end" fill="#231f20" >60</text>
<line x1="296.75" y1="371.77" x2="300.75" y2="371.77" stroke="#111" stroke-width="1.4" />
<text x="292.2" y="374.87" font-size="8.8" text-anchor="end" fill="#231f20" >80</text>
<line x1="300.15" y1="476.25" x2="313.75" y2="476.25" stroke="#111" stroke-width="1.45" />
<line x1="313.75" y1="472.65" x2="313.75" y2="479.85" stroke="#111" stroke-width="1.4" />
<line x1="305" y1="476.25" x2="305" y2="479.65" stroke="#111" stroke-width="1.4" />
<line x1="322" y1="476.25" x2="444.5" y2="476.25" stroke="#111" stroke-width="1.45" />
<line x1="322" y1="472.65" x2="322" y2="479.85" stroke="#111" stroke-width="1.4" />
<line x1="344.5" y1="476.25" x2="344.5" y2="479.65" stroke="#111" stroke-width="1.4" />
<line x1="363.75" y1="476.25" x2="363.75" y2="479.65" stroke="#111" stroke-width="1.4" />
<line x1="378" y1="476.25" x2="378" y2="479.65" stroke="#111" stroke-width="1.4" />
<line x1="392.5" y1="476.25" x2="392.5" y2="479.65" stroke="#111" stroke-width="1.4" />
<line x1="426.75" y1="476.25" x2="426.75" y2="479.65" stroke="#111" stroke-width="1.4" />
<text x="304.8" y="491.2" font-size="8.8" text-anchor="middle" textLength="15.3" lengthAdjust="spacingAndGlyphs" fill="#231f20" >PBS</text>
<text x="344.5" y="491.2" font-size="8.8" text-anchor="middle" fill="#231f20" >10</text>
<text x="363.75" y="491.2" font-size="8.8" text-anchor="middle" fill="#231f20" >25</text>
<text x="378" y="491.2" font-size="8.8" text-anchor="middle" fill="#231f20" >50</text>
<text x="392.8" y="491.2" font-size="8.8" text-anchor="middle" fill="#231f20" >100</text>
<text x="426.75" y="491.2" font-size="8.8" text-anchor="middle" fill="#231f20" >500</text>
<text x="355.74" y="507.5" font-size="11.17" textLength="34.45" lengthAdjust="spacingAndGlyphs" fill="#231f20" >Nb (nM)</text>
<text x="0" y="0" font-size="11.45" textLength="111.08" lengthAdjust="spacingAndGlyphs" fill="#231f20" transform="translate(275.7 478.06) rotate(-90)" >Max light transmission (%)</text>
<polyline points="304.5,379.8 318,379.6" fill="none" stroke="#a8102c" stroke-width="1.25" stroke-linejoin="round" />
<polyline points="321.3,379.6 345,379.5 369.5,476.25" fill="none" stroke="#a8102c" stroke-width="1.25" stroke-linejoin="round" />
<polyline points="304.5,380 313.75,402.2" fill="none" stroke="#4b5468" stroke-width="1.25" stroke-linejoin="round" />
<polyline points="321.3,420 345,476.25 418.25,476.25" fill="none" stroke="#4b5468" stroke-width="1.25" stroke-linejoin="round" />
<circle cx="345" cy="379.5" r="1.75" fill="#a8102c"/>
<circle cx="304.5" cy="380" r="1.75" fill="#4b5468"/>
<circle cx="344.7" cy="476.25" r="1.9" fill="#4b5468"/>
<circle cx="369.5" cy="476.25" r="1.9" fill="#4b5468"/>
<circle cx="389" cy="476.25" r="1.9" fill="#4b5468"/>
<circle cx="403.5" cy="476.25" r="1.9" fill="#4b5468"/>
<circle cx="418.25" cy="476.25" r="1.9" fill="#4b5468"/>
<line x1="430.2" y1="369.3" x2="441.2" y2="369.3" stroke="#4b5468" stroke-width="1.2" />
<circle cx="435.8" cy="369.3" r="2.1" fill="#4b5468"/>
<text x="445.27" y="371.65" font-size="7.1" textLength="14.42" lengthAdjust="spacingAndGlyphs" fill="#231f20" >Nb2</text>
<line x1="430.2" y1="380.6" x2="441.2" y2="380.6" stroke="#a8102c" stroke-width="1.2" />
<circle cx="435.8" cy="380.6" r="2.1" fill="#a8102c"/>
<text x="445.3" y="382.65" font-size="7.1" textLength="17.88" lengthAdjust="spacingAndGlyphs" fill="#231f20" >Nb21</text>
<line x1="430.2" y1="391.5" x2="441.2" y2="391.5" stroke="#e39117" stroke-width="1.2" />
<circle cx="435.8" cy="391.5" r="2.1" fill="#e39117"/>
<text x="445.27" y="393.65" font-size="7.1" textLength="18.85" lengthAdjust="spacingAndGlyphs" fill="#231f20" >Nb35</text>
<circle cx="332.2" cy="468.3" r="0.92" fill="#4b5468"/>
<circle cx="335.2" cy="468.3" r="0.92" fill="#4b5468"/>
<circle cx="338.2" cy="468.3" r="0.92" fill="#4b5468"/>
<circle cx="332.2" cy="472.6" r="0.92" fill="#e39117"/>
<circle cx="335.2" cy="472.6" r="0.92" fill="#e39117"/>
<circle cx="338.2" cy="472.6" r="0.92" fill="#e39117"/>
<circle cx="371.8" cy="459.7" r="0.92" fill="#4b5468"/>
<circle cx="374.8" cy="459.7" r="0.92" fill="#4b5468"/>
<circle cx="377.8" cy="459.7" r="0.92" fill="#4b5468"/>
<circle cx="371.8" cy="463.9" r="0.92" fill="#e39117"/>
<circle cx="374.8" cy="463.9" r="0.92" fill="#e39117"/>
<circle cx="377.8" cy="463.9" r="0.92" fill="#e39117"/>
<circle cx="371.8" cy="468.3" r="0.92" fill="#a8102c"/>
<circle cx="374.8" cy="468.3" r="0.92" fill="#a8102c"/>
<circle cx="377.8" cy="468.3" r="0.92" fill="#a8102c"/>
<circle cx="385.8" cy="461.5" r="0.92" fill="#4b5468"/>
<circle cx="388.8" cy="461.5" r="0.92" fill="#4b5468"/>
<circle cx="391.8" cy="461.5" r="0.92" fill="#4b5468"/>
<circle cx="385.8" cy="465.8" r="0.92" fill="#e39117"/>
<circle cx="388.8" cy="465.8" r="0.92" fill="#e39117"/>
<circle cx="391.8" cy="465.8" r="0.92" fill="#e39117"/>
<circle cx="385.8" cy="470.2" r="0.92" fill="#a8102c"/>
<circle cx="388.8" cy="470.2" r="0.92" fill="#a8102c"/>
<circle cx="391.8" cy="470.2" r="0.92" fill="#a8102c"/>
<circle cx="399.7" cy="462.4" r="0.92" fill="#4b5468"/>
<circle cx="402.7" cy="462.4" r="0.92" fill="#4b5468"/>
<circle cx="405.7" cy="462.4" r="0.92" fill="#4b5468"/>
<circle cx="399.7" cy="466.8" r="0.92" fill="#e39117"/>
<circle cx="402.7" cy="466.8" r="0.92" fill="#e39117"/>
<circle cx="405.7" cy="466.8" r="0.92" fill="#e39117"/>
<circle cx="399.7" cy="471" r="0.92" fill="#a8102c"/>
<circle cx="402.7" cy="471" r="0.92" fill="#a8102c"/>
<circle cx="405.7" cy="471" r="0.92" fill="#a8102c"/>
<circle cx="414" cy="461.2" r="0.92" fill="#4b5468"/>
<circle cx="417" cy="461.2" r="0.92" fill="#4b5468"/>
<circle cx="420" cy="461.2" r="0.92" fill="#4b5468"/>
<circle cx="414" cy="465.6" r="0.92" fill="#e39117"/>
<circle cx="417" cy="465.6" r="0.92" fill="#e39117"/>
<circle cx="420" cy="465.6" r="0.92" fill="#e39117"/>
<circle cx="414" cy="470.1" r="0.92" fill="#a8102c"/>
<circle cx="417" cy="470.1" r="0.92" fill="#a8102c"/>
<circle cx="420" cy="470.1" r="0.92" fill="#a8102c"/>
<text x="8.73" y="544.7" font-size="16.57" font-weight="bold" textLength="11.19" lengthAdjust="spacingAndGlyphs" fill="#000" >C</text>
<line x1="64.6" y1="555.5" x2="64.6" y2="659.7" stroke="#111" stroke-width="1.45" />
<line x1="60.4" y1="659.1" x2="64.6" y2="659.1" stroke="#111" stroke-width="1.4" />
<text x="56.2" y="662.2" font-size="8.8" text-anchor="end" fill="#231f20" >0</text>
<line x1="60.4" y1="625.57" x2="64.6" y2="625.57" stroke="#111" stroke-width="1.4" />
<text x="56.2" y="628.67" font-size="8.8" text-anchor="end" fill="#231f20" >50</text>
<line x1="60.4" y1="592.03" x2="64.6" y2="592.03" stroke="#111" stroke-width="1.4" />
<text x="56.2" y="595.13" font-size="8.8" text-anchor="end" fill="#231f20" >100</text>
<line x1="60.4" y1="558.5" x2="64.6" y2="558.5" stroke="#111" stroke-width="1.4" />
<text x="56.2" y="561.6" font-size="8.8" text-anchor="end" fill="#231f20" >150</text>
<line x1="64" y1="659.1" x2="82.7" y2="659.1" stroke="#111" stroke-width="1.45" />
<line x1="70.8" y1="659.1" x2="70.8" y2="662.9" stroke="#111" stroke-width="1.4" />
<line x1="77.3" y1="656.2" x2="77.3" y2="661.9" stroke="#111" stroke-width="1.4" />
<line x1="86.2" y1="659.1" x2="221.3" y2="659.1" stroke="#111" stroke-width="1.45" />
<line x1="86.2" y1="656.2" x2="86.2" y2="662.3" stroke="#111" stroke-width="1.4" />
<line x1="129.5" y1="659.1" x2="129.5" y2="662.7" stroke="#111" stroke-width="1.4" />
<line x1="158" y1="659.1" x2="158" y2="662.7" stroke="#111" stroke-width="1.4" />
<line x1="179.5" y1="659.1" x2="179.5" y2="662.7" stroke="#111" stroke-width="1.4" />
<line x1="200.75" y1="659.1" x2="200.75" y2="662.7" stroke="#111" stroke-width="1.4" />
<text x="70.6" y="674.6" font-size="8.8" text-anchor="middle" fill="#231f20" >0</text>
<text x="129.5" y="674.6" font-size="8.8" text-anchor="middle" fill="#231f20" >10</text>
<text x="158" y="674.6" font-size="8.8" text-anchor="middle" fill="#231f20" >25</text>
<text x="179.5" y="674.6" font-size="8.8" text-anchor="middle" fill="#231f20" >50</text>
<text x="201" y="674.6" font-size="8.8" text-anchor="middle" fill="#231f20" >100</text>
<text x="128.13" y="690.5" font-size="11.03" textLength="34.87" lengthAdjust="spacingAndGlyphs" fill="#231f20" >Nb (nM)</text>
<text x="0" y="0" font-size="12" textLength="43.92" lengthAdjust="spacingAndGlyphs" fill="#231f20" transform="translate(34.6 629.15) rotate(-90)" >% binding</text>
<path d="M86.25,593.2 C88.54,593.5 96.04,594.28 100,595 C103.96,595.72 105.17,596.04 110,597.5 C114.83,598.96 124,601.25 129,603.75 C134,606.25 136.5,609.38 140,612.5 C143.5,615.62 146.12,619.38 150,622.5 C153.88,625.62 159.08,628.54 163.25,631.25 C167.42,633.96 171.38,636.62 175,638.75 C178.62,640.88 181.67,642.79 185,644 C188.33,645.21 191.33,645.57 195,646 C198.67,646.43 205,646.5 207,646.6" fill="none" stroke="#4b5468" stroke-width="1.3"/>
<path d="M86.25,593.3 C90.21,593.38 102.88,593.38 110,593.75 C117.12,594.12 122.75,594.46 129,595.5 C135.25,596.54 142.33,598.21 147.5,600 C152.67,601.79 155.83,603.33 160,606.25 C164.17,609.17 168.33,613.25 172.5,617.5 C176.67,621.75 181.25,628.25 185,631.75 C188.75,635.25 191.33,636.69 195,638.5 C198.67,640.31 205,641.92 207,642.6" fill="none" stroke="#e39117" stroke-width="1.3"/>
<path d="M86.25,593 C91.88,593 109.38,593 120,593 C130.62,593 142.83,592.95 150,593 C157.17,593.05 159.88,593.05 163,593.3 C166.12,593.55 167.25,593.88 168.75,594.5 C170.25,595.12 170.96,596.08 172,597 C173.04,597.92 174,598.75 175,600 C176,601.25 176.96,602.83 178,604.5 C179.04,606.17 180.08,608.04 181.25,610 C182.42,611.96 183.54,613.54 185,616.25 C186.46,618.96 188.33,623.29 190,626.25 C191.67,629.21 193.33,631.96 195,634 C196.67,636.04 198,637.3 200,638.5 C202,639.7 205.83,640.75 207,641.2" fill="none" stroke="#a8102c" stroke-width="1.3"/>
<line x1="72" y1="592.9" x2="77" y2="592.9" stroke="#e39117" stroke-width="1.0" />
<circle cx="70.8" cy="592.6" r="1.6" fill="#4b5468"/>
<line x1="129" y1="582.5" x2="129" y2="595" stroke="#a8102c" stroke-width="0.9" />
<line x1="127.2" y1="582.5" x2="130.8" y2="582.5" stroke="#a8102c" stroke-width="0.9" />
<line x1="127.2" y1="595" x2="130.8" y2="595" stroke="#a8102c" stroke-width="0.9" />
<line x1="129" y1="595" x2="129" y2="618" stroke="#4b5468" stroke-width="0.9" />
<line x1="127.2" y1="595" x2="130.8" y2="595" stroke="#4b5468" stroke-width="0.9" />
<line x1="127.2" y1="618" x2="130.8" y2="618" stroke="#4b5468" stroke-width="0.9" />
<line x1="163.4" y1="559.75" x2="163.4" y2="607.5" stroke="#a8102c" stroke-width="0.9" />
<line x1="161.6" y1="559.75" x2="165.2" y2="559.75" stroke="#a8102c" stroke-width="0.9" />
<line x1="161.6" y1="607.5" x2="165.2" y2="607.5" stroke="#a8102c" stroke-width="0.9" />
<line x1="163.4" y1="602.5" x2="163.4" y2="618.5" stroke="#e39117" stroke-width="0.9" />
<line x1="161.6" y1="602.5" x2="165.2" y2="602.5" stroke="#e39117" stroke-width="0.9" />
<line x1="161.6" y1="618.5" x2="165.2" y2="618.5" stroke="#e39117" stroke-width="0.9" />
<line x1="163.4" y1="619" x2="163.4" y2="642.5" stroke="#4b5468" stroke-width="0.9" />
<line x1="161.6" y1="619" x2="165.2" y2="619" stroke="#4b5468" stroke-width="0.9" />
<line x1="161.6" y1="642.5" x2="165.2" y2="642.5" stroke="#4b5468" stroke-width="0.9" />
<line x1="185" y1="612.5" x2="185" y2="617.5" stroke="#a8102c" stroke-width="0.9" />
<line x1="183.2" y1="612.5" x2="186.8" y2="612.5" stroke="#a8102c" stroke-width="0.9" />
<line x1="183.2" y1="617.5" x2="186.8" y2="617.5" stroke="#a8102c" stroke-width="0.9" />
<line x1="198" y1="632" x2="198" y2="641.5" stroke="#a8102c" stroke-width="0.9" />
<line x1="196.2" y1="632" x2="199.8" y2="632" stroke="#a8102c" stroke-width="0.9" />
<line x1="196.2" y1="641.5" x2="199.8" y2="641.5" stroke="#a8102c" stroke-width="0.9" />
<line x1="207" y1="626" x2="207" y2="656" stroke="#e39117" stroke-width="0.9" />
<line x1="205.2" y1="626" x2="208.8" y2="626" stroke="#e39117" stroke-width="0.9" />
<line x1="205.2" y1="656" x2="208.8" y2="656" stroke="#e39117" stroke-width="0.9" />
<line x1="207" y1="637.5" x2="207" y2="644" stroke="#a8102c" stroke-width="0.9" />
<line x1="205.2" y1="637.5" x2="208.8" y2="637.5" stroke="#a8102c" stroke-width="0.9" />
<line x1="205.2" y1="644" x2="208.8" y2="644" stroke="#a8102c" stroke-width="0.9" />
<circle cx="129" cy="606.25" r="2" fill="#4b5468"/>
<circle cx="129" cy="596.25" r="2" fill="#e39117"/>
<circle cx="129" cy="588.75" r="2" fill="#a8102c"/>
<circle cx="163.4" cy="631" r="2" fill="#4b5468"/>
<circle cx="163.4" cy="610.6" r="2" fill="#e39117"/>
<circle cx="163.4" cy="583.5" r="2" fill="#a8102c"/>
<circle cx="185" cy="647.5" r="2" fill="#4b5468"/>
<circle cx="185" cy="632" r="2" fill="#e39117"/>
<circle cx="185" cy="615" r="2" fill="#a8102c"/>
<circle cx="198" cy="646.25" r="2" fill="#4b5468"/>
<circle cx="198" cy="640.75" r="2" fill="#e39117"/>
<circle cx="198" cy="636.75" r="2" fill="#a8102c"/>
<circle cx="207" cy="645.75" r="2" fill="#4b5468"/>
<circle cx="207" cy="641.5" r="2" fill="#e39117"/>
<circle cx="207" cy="640.75" r="2" fill="#a8102c"/>
<line x1="200.5" y1="554.5" x2="211.5" y2="554.5" stroke="#4b5468" stroke-width="1.2" />
<circle cx="206.2" cy="554.5" r="2.1" fill="#4b5468"/>
<text x="215.59" y="556.75" font-size="7.1" textLength="14.1" lengthAdjust="spacingAndGlyphs" fill="#231f20" >Nb2</text>
<line x1="200.5" y1="565.6" x2="211.5" y2="565.6" stroke="#a8102c" stroke-width="1.2" />
<circle cx="206.2" cy="565.6" r="2.1" fill="#a8102c"/>
<text x="215.6" y="567.85" font-size="7.1" textLength="17.98" lengthAdjust="spacingAndGlyphs" fill="#231f20" >Nb21</text>
<line x1="200.5" y1="576.4" x2="211.5" y2="576.4" stroke="#e39117" stroke-width="1.2" />
<circle cx="206.2" cy="576.4" r="2.1" fill="#e39117"/>
<text x="215.57" y="578.65" font-size="7.1" textLength="18.85" lengthAdjust="spacingAndGlyphs" fill="#231f20" >Nb35</text>
<text x="255" y="544.5" font-size="16.09" font-weight="bold" textLength="12.21" lengthAdjust="spacingAndGlyphs" fill="#000" >D</text>
<polyline points="300.5,659.4 301.1,659.29 301.7,659.18 302.3,659.07 302.9,658.96 303.5,658.85 304.1,658.74 304.7,658.63 305.3,658.52 305.9,658.42 306.5,658.31 307.1,658.2 307.7,658.1 308.3,657.99 308.9,657.89 309.5,657.79 310.1,657.69 310.7,657.58 311.3,657.48 311.9,657.38 312.5,657.28 313.1,657.18 313.7,657.09 314.3,656.99 314.9,656.89 315.5,656.79 316.1,656.7 316.7,656.6 317.3,656.51 317.9,656.41 318.5,656.32 319.1,656.27 320.3,656.31 321.5,656.34 322.7,656.36 323.9,656.41 325.1,656.36 326.3,656.41 327.5,656.21 328.7,656.32 329.9,656.44 331.1,656.37 332.3,656.44 333.5,656.26 334.7,656.35 335.9,656.3 337.1,656.38 338.3,656.39 339.5,656.26 340.7,656.32 341.9,656.34 343.1,656.5 344.3,656.47 345.5,656.33 346.7,656.49 347.9,656.34 349.1,656.46 350.3,656.35 351.5,656.32 352.7,656.54 353.9,656.38 355.1,656.39 356.3,656.58 357.5,656.56 358.7,656.43 359.9,656.59 361.1,656.5 362.3,656.54 363.5,656.43 364.7,656.61 365.9,656.56 367.1,656.63 368.3,656.62 369.5,656.48 370.7,656.5 371.9,656.46 373.1,656.46 374.3,656.45 375.5,656.51 376.7,656.59 377.9,656.45 379.1,656.62 380.3,656.54 381.5,656.54 382.7,656.67 383.9,656.59 385.1,656.56 386.3,656.61 387.5,656.67 388.7,656.52 389.9,656.74 391.1,656.52 392.3,656.7 393.5,656.73 394.7,656.53 395.9,656.72 397.1,656.63 398.3,656.69 399.5,656.55 400.7,656.57 401.9,656.61 403.1,656.8 404.3,656.62 405.5,656.76 406.7,656.81 407.9,656.82 409.1,656.68 410.3,656.69 411.5,656.73 412.7,656.8 413.9,656.64 415.1,656.8 416.3,656.82 417.5,656.84 418.7,656.65 419.9,656.87 421.1,656.67 422.3,656.74 423.5,656.81 424.7,656.89 425.9,656.75 427.1,656.9 428.3,656.81 429.5,656.76 430.7,656.77 431.9,656.74 433.1,656.72 434.3,656.74 435.5,656.88 436.7,656.96 437.9,656.76 439.1,656.74 440.3,656.97 441.5,656.87 442.7,656.84 443.9,656.81 445.1,656.9 446.3,656.96 447.5,656.87 448.7,656.87 449.9,656.79" fill="none" stroke="#8d929b" stroke-width="1.1" stroke-linejoin="round"/>
<polyline points="300.5,659.4 301.1,659.16 301.7,658.93 302.3,658.69 302.9,658.46 303.5,658.23 304.1,658 304.7,657.77 305.3,657.55 305.9,657.32 306.5,657.1 307.1,656.88 307.7,656.66 308.3,656.45 308.9,656.23 309.5,656.02 310.1,655.81 310.7,655.6 311.3,655.39 311.9,655.19 312.5,654.98 313.1,654.78 313.7,654.58 314.3,654.38 314.9,654.18 315.5,653.99 316.1,653.79 316.7,653.6 317.3,653.41 317.9,653.22 318.5,653.03 319.1,652.94 320.3,653.06 321.5,652.87 322.7,653 323.9,653.1 325.1,652.95 326.3,653.12 327.5,653.19 328.7,653.13 329.9,653.19 331.1,653.05 332.3,653.14 333.5,653.1 334.7,653.28 335.9,653.17 337.1,653.23 338.3,653.38 339.5,653.36 340.7,653.41 341.9,653.3 343.1,653.33 344.3,653.41 345.5,653.37 346.7,653.34 347.9,653.39 349.1,653.34 350.3,653.42 351.5,653.58 352.7,653.59 353.9,653.53 355.1,653.52 356.3,653.5 357.5,653.46 358.7,653.52 359.9,653.66 361.1,653.7 362.3,653.6 363.5,653.72 364.7,653.73 365.9,653.73 367.1,653.74 368.3,653.78 369.5,653.7 370.7,653.8 371.9,653.72 373.1,653.79 374.3,653.87 375.5,653.87 376.7,653.79 377.9,653.97 379.1,653.91 380.3,653.91 381.5,653.79 382.7,653.94 383.9,653.88 385.1,654 386.3,653.97 387.5,654.07 388.7,654.05 389.9,654.1 391.1,654.01 392.3,654.1 393.5,654.14 394.7,654.17 395.9,654.08 397.1,654.21 398.3,654.23 399.5,654.21 400.7,654.29 401.9,654.3 403.1,654.21 404.3,654.23 405.5,654.16 406.7,654.34 407.9,654.38 409.1,654.29 410.3,654.35 411.5,654.38 412.7,654.39 413.9,654.28 415.1,654.44 416.3,654.41 417.5,654.44 418.7,654.4 419.9,654.46 421.1,654.51 422.3,654.5 423.5,654.53 424.7,654.38 425.9,654.43 427.1,654.51 428.3,654.58 429.5,654.49 430.7,654.61 431.9,654.62 433.1,654.49 434.3,654.61 435.5,654.56 436.7,654.54 437.9,654.57 439.1,654.63 440.3,654.61 441.5,654.63 442.7,654.61 443.9,654.73 445.1,654.72 446.3,654.79 447.5,654.8 448.7,654.73 449.9,654.9" fill="none" stroke="#d2324f" stroke-width="1.1" stroke-linejoin="round"/>
<polyline points="300.5,659.4 301.1,658.93 301.7,658.46 302.3,658 302.9,657.54 303.5,657.09 304.1,656.64 304.7,656.2 305.3,655.77 305.9,655.33 306.5,654.91 307.1,654.48 307.7,654.06 308.3,653.65 308.9,653.24 309.5,652.84 310.1,652.44 310.7,652.04 311.3,651.65 311.9,651.26 312.5,650.88 313.1,650.5 313.7,650.12 314.3,649.75 314.9,649.39 315.5,649.02 316.1,648.67 316.7,648.31 317.3,647.96 317.9,647.61 318.5,647.27 319.1,647.11 320.3,647.03 321.5,647.17 322.7,647.18 323.9,647.25 325.1,647.22 326.3,647.43 327.5,647.36 328.7,647.32 329.9,647.5 331.1,647.41 332.3,647.56 333.5,647.55 334.7,647.65 335.9,647.78 337.1,647.78 338.3,647.72 339.5,647.86 340.7,647.86 341.9,647.83 343.1,647.81 344.3,647.96 345.5,647.99 346.7,648.12 347.9,648.16 349.1,648.11 350.3,648.09 351.5,648.26 352.7,648.08 353.9,648.14 355.1,648.29 356.3,648.34 357.5,648.26 358.7,648.41 359.9,648.51 361.1,648.43 362.3,648.48 363.5,648.46 364.7,648.51 365.9,648.71 367.1,648.61 368.3,648.78 369.5,648.81 370.7,648.77 371.9,648.72 373.1,648.93 374.3,648.85 375.5,648.86 376.7,648.87 377.9,649.07 379.1,648.98 380.3,648.97 381.5,649.05 382.7,649 383.9,649.15 385.1,649.14 386.3,649.14 387.5,649.29 388.7,649.34 389.9,649.18 391.1,649.33 392.3,649.31 393.5,649.5 394.7,649.49 395.9,649.4 397.1,649.44 398.3,649.44 399.5,649.67 400.7,649.54 401.9,649.65 403.1,649.65 404.3,649.72 405.5,649.74 406.7,649.81 407.9,649.69 409.1,649.88 410.3,649.8 411.5,649.89 412.7,649.87 413.9,649.89 415.1,649.98 416.3,650 417.5,650 418.7,650.13 419.9,650.12 421.1,650.02 422.3,650.1 423.5,650.18 424.7,650.32 425.9,650.34 427.1,650.29 428.3,650.19 429.5,650.41 430.7,650.35 431.9,650.42 433.1,650.48 434.3,650.49 435.5,650.49 436.7,650.62 437.9,650.52 439.1,650.55 440.3,650.69 441.5,650.56 442.7,650.62 443.9,650.77 445.1,650.62 446.3,650.83 447.5,650.83 448.7,650.79 449.9,650.79" fill="none" stroke="#74bd55" stroke-width="1.1" stroke-linejoin="round"/>
<polyline points="300.5,659.4 301.1,658.47 301.7,657.55 302.3,656.65 302.9,655.76 303.5,654.88 304.1,654.02 304.7,653.16 305.3,652.33 305.9,651.5 306.5,650.69 307.1,649.89 307.7,649.1 308.3,648.32 308.9,647.56 309.5,646.8 310.1,646.06 310.7,645.33 311.3,644.61 311.9,643.9 312.5,643.2 313.1,642.51 313.7,641.83 314.3,641.16 314.9,640.51 315.5,639.86 316.1,639.22 316.7,638.59 317.3,637.97 317.9,637.36 318.5,636.76 319.1,636.48 320.3,636.63 321.5,636.74 322.7,636.63 323.9,636.79 325.1,636.88 326.3,636.94 327.5,636.98 328.7,637.01 329.9,637.19 331.1,637.32 332.3,637.21 333.5,637.33 334.7,637.54 335.9,637.61 337.1,637.65 338.3,637.57 339.5,637.81 340.7,637.95 341.9,638.02 343.1,638.03 344.3,637.94 345.5,638.2 346.7,638.13 347.9,638.3 349.1,638.44 350.3,638.46 351.5,638.39 352.7,638.5 353.9,638.72 355.1,638.6 356.3,638.78 357.5,638.81 358.7,638.81 359.9,638.99 361.1,638.92 362.3,639.01 363.5,639.14 364.7,639.14 365.9,639.2 367.1,639.39 368.3,639.5 369.5,639.6 370.7,639.49 371.9,639.63 373.1,639.66 374.3,639.8 375.5,639.84 376.7,640.01 377.9,639.94 379.1,639.93 380.3,640.15 381.5,640.08 382.7,640.26 383.9,640.3 385.1,640.46 386.3,640.44 387.5,640.52 388.7,640.49 389.9,640.63 391.1,640.62 392.3,640.8 393.5,640.81 394.7,640.78 395.9,640.87 397.1,640.96 398.3,641.11 399.5,641.04 400.7,641.23 401.9,641.27 403.1,641.2 404.3,641.4 405.5,641.32 406.7,641.39 407.9,641.56 409.1,641.54 410.3,641.75 411.5,641.72 412.7,641.74 413.9,641.91 415.1,641.79 416.3,642.01 417.5,641.91 418.7,641.99 419.9,642.24 421.1,642.23 422.3,642.18 423.5,642.21 424.7,642.48 425.9,642.46 427.1,642.55 428.3,642.45 429.5,642.62 430.7,642.61 431.9,642.64 433.1,642.72 434.3,642.84 435.5,642.84 436.7,642.9 437.9,642.9 439.1,643.12 440.3,643.13 441.5,643.22 442.7,643.19 443.9,643.34 445.1,643.32 446.3,643.39 447.5,643.44 448.7,643.53 449.9,643.5" fill="none" stroke="#e0399e" stroke-width="1.1" stroke-linejoin="round"/>
<polyline points="300.5,659.4 301.1,657.65 301.7,655.95 302.3,654.27 302.9,652.63 303.5,651.03 304.1,649.46 304.7,647.92 305.3,646.42 305.9,644.95 306.5,643.5 307.1,642.09 307.7,640.71 308.3,639.36 308.9,638.03 309.5,636.74 310.1,635.47 310.7,634.22 311.3,633.01 311.9,631.81 312.5,630.65 313.1,629.51 313.7,628.39 314.3,627.29 314.9,626.22 315.5,625.17 316.1,624.15 316.7,623.14 317.3,622.16 317.9,621.19 318.5,620.25 319.1,619.82 320.3,619.85 321.5,619.96 322.7,620.13 323.9,620.22 325.1,620.55 326.3,620.58 327.5,620.77 328.7,620.71 329.9,620.95 331.1,621.18 332.3,621.24 333.5,621.31 334.7,621.45 335.9,621.48 337.1,621.62 338.3,621.74 339.5,621.91 340.7,622.04 341.9,622.28 343.1,622.22 344.3,622.37 345.5,622.5 346.7,622.59 347.9,622.74 349.1,622.84 350.3,623.02 351.5,623.03 352.7,623.36 353.9,623.35 355.1,623.6 356.3,623.66 357.5,623.77 358.7,623.84 359.9,624.06 361.1,623.98 362.3,624.23 363.5,624.25 364.7,624.46 365.9,624.58 367.1,624.56 368.3,624.68 369.5,624.75 370.7,624.91 371.9,624.99 373.1,625.18 374.3,625.43 375.5,625.39 376.7,625.49 377.9,625.64 379.1,625.7 380.3,625.92 381.5,626.02 382.7,626 383.9,626.13 385.1,626.34 386.3,626.51 387.5,626.55 388.7,626.6 389.9,626.84 391.1,626.71 392.3,626.83 393.5,627.11 394.7,627.12 395.9,627.14 397.1,627.37 398.3,627.58 399.5,627.57 400.7,627.63 401.9,627.67 403.1,627.77 404.3,628.07 405.5,628.07 406.7,628.28 407.9,628.17 409.1,628.32 410.3,628.37 411.5,628.56 412.7,628.57 413.9,628.72 415.1,628.86 416.3,628.93 417.5,628.97 418.7,629.06 419.9,629.39 421.1,629.29 422.3,629.47 423.5,629.54 424.7,629.67 425.9,629.66 427.1,629.81 428.3,629.86 429.5,630.06 430.7,630.24 431.9,630.26 433.1,630.42 434.3,630.36 435.5,630.4 436.7,630.62 437.9,630.7 439.1,630.82 440.3,630.86 441.5,631.02 442.7,631.13 443.9,631.27 445.1,631.21 446.3,631.34 447.5,631.52 448.7,631.47 449.9,631.53" fill="none" stroke="#a69fe0" stroke-width="1.1" stroke-linejoin="round"/>
<polyline points="300.5,659.4 301.1,656.31 301.7,653.31 302.3,650.41 302.9,647.58 303.5,644.84 304.1,642.19 304.7,639.61 305.3,637.11 305.9,634.68 306.5,632.33 307.1,630.04 307.7,627.82 308.3,625.67 308.9,623.58 309.5,621.56 310.1,619.59 310.7,617.69 311.3,615.83 311.9,614.04 312.5,612.3 313.1,610.61 313.7,608.97 314.3,607.37 314.9,605.83 315.5,604.33 316.1,602.88 316.7,601.47 317.3,600.1 317.9,598.77 318.5,597.48 319.1,596.9 320.3,597.06 321.5,597.2 322.7,597.56 323.9,597.77 325.1,597.85 326.3,598 327.5,598.19 328.7,598.42 329.9,598.58 331.1,598.86 332.3,599.08 333.5,599.2 334.7,599.35 335.9,599.69 337.1,599.73 338.3,599.95 339.5,600.16 340.7,600.38 341.9,600.5 343.1,600.76 344.3,600.93 345.5,601.22 346.7,601.36 347.9,601.62 349.1,601.75 350.3,601.96 351.5,602.1 352.7,602.25 353.9,602.53 355.1,602.67 356.3,602.92 357.5,603.05 358.7,603.22 359.9,603.3 361.1,603.61 362.3,603.69 363.5,603.8 364.7,603.97 365.9,604.17 367.1,604.37 368.3,604.64 369.5,604.72 370.7,604.85 371.9,605.19 373.1,605.31 374.3,605.36 375.5,605.54 376.7,605.73 377.9,605.95 379.1,606.25 380.3,606.44 381.5,606.53 382.7,606.6 383.9,606.82 385.1,606.97 386.3,607.13 387.5,607.22 388.7,607.53 389.9,607.75 391.1,607.89 392.3,607.91 393.5,608.18 394.7,608.25 395.9,608.55 397.1,608.65 398.3,608.93 399.5,609.05 400.7,609.05 401.9,609.26 403.1,609.57 404.3,609.62 405.5,609.77 406.7,609.93 407.9,610.17 409.1,610.36 410.3,610.43 411.5,610.69 412.7,610.75 413.9,610.79 415.1,611.12 416.3,611.18 417.5,611.24 418.7,611.62 419.9,611.55 421.1,611.83 422.3,611.96 423.5,612.21 424.7,612.24 425.9,612.35 427.1,612.51 428.3,612.65 429.5,612.88 430.7,612.98 431.9,613.22 433.1,613.25 434.3,613.42 435.5,613.55 436.7,613.87 437.9,613.98 439.1,614.13 440.3,614.22 441.5,614.31 442.7,614.39 443.9,614.7 445.1,614.76 446.3,614.8 447.5,614.97 448.7,615.1 449.9,615.39" fill="none" stroke="#f0a33a" stroke-width="1.1" stroke-linejoin="round"/>
<polyline points="300.5,659.4 301.1,654.34 301.7,649.5 302.3,644.86 302.9,640.42 303.5,636.17 304.1,632.09 304.7,628.19 305.3,624.45 305.9,620.87 306.5,617.45 307.1,614.16 307.7,611.02 308.3,608.01 308.9,605.13 309.5,602.36 310.1,599.72 310.7,597.19 311.3,594.76 311.9,592.44 312.5,590.21 313.1,588.08 313.7,586.04 314.3,584.08 314.9,582.21 315.5,580.42 316.1,578.7 316.7,577.06 317.3,575.48 317.9,573.97 318.5,572.53 319.1,571.9 320.3,572.28 321.5,572.4 322.7,572.83 323.9,573 325.1,573.37 326.3,573.69 327.5,573.92 328.7,574.24 329.9,574.42 331.1,574.61 332.3,575.01 333.5,575.3 334.7,575.48 335.9,575.8 337.1,576.06 338.3,576.26 339.5,576.6 340.7,576.89 341.9,577.18 343.1,577.51 344.3,577.7 345.5,578.11 346.7,578.34 347.9,578.63 349.1,578.84 350.3,579.1 351.5,579.33 352.7,579.65 353.9,579.81 355.1,580.13 356.3,580.41 357.5,580.63 358.7,580.83 359.9,581.04 361.1,581.29 362.3,581.61 363.5,581.92 364.7,582.22 365.9,582.46 367.1,582.62 368.3,583.02 369.5,583.11 370.7,583.47 371.9,583.56 373.1,583.97 374.3,584.2 375.5,584.52 376.7,584.75 377.9,584.94 379.1,585.22 380.3,585.44 381.5,585.65 382.7,585.8 383.9,586.11 385.1,586.44 386.3,586.52 387.5,586.94 388.7,587.07 389.9,587.28 391.1,587.42 392.3,587.75 393.5,587.93 394.7,588.28 395.9,588.57 397.1,588.8 398.3,588.97 399.5,589.14 400.7,589.3 401.9,589.67 403.1,589.87 404.3,590.14 405.5,590.28 406.7,590.63 407.9,590.69 409.1,590.94 410.3,591.16 411.5,591.46 412.7,591.75 413.9,591.8 415.1,592.13 416.3,592.39 417.5,592.48 418.7,592.66 419.9,592.99 421.1,593.28 422.3,593.5 423.5,593.68 424.7,593.82 425.9,594.04 427.1,594.28 428.3,594.58 429.5,594.65 430.7,594.86 431.9,595.15 433.1,595.44 434.3,595.47 435.5,595.64 436.7,595.87 437.9,596.18 439.1,596.4 440.3,596.51 441.5,596.71 442.7,597.02 443.9,597.23 445.1,597.45 446.3,597.66 447.5,597.7 448.7,598 449.9,598.29" fill="none" stroke="#4d6ea6" stroke-width="1.1" stroke-linejoin="round"/>
<line x1="300.5" y1="551.3" x2="300.5" y2="660" stroke="#111" stroke-width="1.45" />
<line x1="296.3" y1="659" x2="300.5" y2="659" stroke="#111" stroke-width="1.4" />
<text x="292.6" y="662.1" font-size="8.8" text-anchor="end" fill="#231f20" >0</text>
<line x1="296.3" y1="638.15" x2="300.5" y2="638.15" stroke="#111" stroke-width="1.4" />
<text x="292.6" y="641.25" font-size="8.8" text-anchor="end" fill="#231f20" >10</text>
<line x1="296.3" y1="617.3" x2="300.5" y2="617.3" stroke="#111" stroke-width="1.4" />
<text x="292.6" y="620.4" font-size="8.8" text-anchor="end" fill="#231f20" >20</text>
<line x1="296.3" y1="596.45" x2="300.5" y2="596.45" stroke="#111" stroke-width="1.4" />
<text x="292.6" y="599.55" font-size="8.8" text-anchor="end" fill="#231f20" >30</text>
<line x1="296.3" y1="575.6" x2="300.5" y2="575.6" stroke="#111" stroke-width="1.4" />
<text x="292.6" y="578.7" font-size="8.8" text-anchor="end" fill="#231f20" >40</text>
<line x1="296.3" y1="554.75" x2="300.5" y2="554.75" stroke="#111" stroke-width="1.4" />
<text x="292.6" y="557.85" font-size="8.8" text-anchor="end" fill="#231f20" >50</text>
<line x1="299.9" y1="659.4" x2="453.2" y2="659.4" stroke="#111" stroke-width="1.45" />
<line x1="300.5" y1="659.4" x2="300.5" y2="663" stroke="#111" stroke-width="1.4" />
<text x="300.5" y="674.4" font-size="8.8" text-anchor="middle" fill="#231f20" >0</text>
<line x1="375.5" y1="659.4" x2="375.5" y2="663" stroke="#111" stroke-width="1.4" />
<text x="375.5" y="674.4" font-size="8.8" text-anchor="middle" fill="#231f20" >500</text>
<line x1="450.5" y1="659.4" x2="450.5" y2="663" stroke="#111" stroke-width="1.4" />
<text x="450.5" y="674.4" font-size="8.8" text-anchor="middle" fill="#231f20" >1000</text>
<text x="357.38" y="690.6" font-size="11.72" textLength="39.93" lengthAdjust="spacingAndGlyphs" fill="#231f20" >Time / sec</text>
<text x="0" y="0" font-size="12.28" textLength="58.44" lengthAdjust="spacingAndGlyphs" fill="#231f20" transform="translate(276.1 629.79) rotate(-90)" >Response / RU</text>
<line x1="466.4" y1="574.9" x2="476.3" y2="574.9" stroke="#8d929b" stroke-width="1.4" />
<text x="480.2" y="577.2" font-size="7.14" textLength="27.36" lengthAdjust="spacingAndGlyphs" fill="#231f20" style="stroke-width:0.1px">0.49 nM</text>
<line x1="466.4" y1="584.95" x2="476.3" y2="584.95" stroke="#d2324f" stroke-width="1.4" />
<text x="480.2" y="587.25" font-size="7.14" textLength="27.36" lengthAdjust="spacingAndGlyphs" fill="#231f20" style="stroke-width:0.1px">0.98 nM</text>
<line x1="466.4" y1="595" x2="476.3" y2="595" stroke="#74bd55" stroke-width="1.4" />
<text x="479.93" y="597.3" font-size="7.14" textLength="27.36" lengthAdjust="spacingAndGlyphs" fill="#231f20" style="stroke-width:0.1px">1.95 nM</text>
<line x1="466.4" y1="605.05" x2="476.3" y2="605.05" stroke="#e0399e" stroke-width="1.4" />
<text x="480.2" y="607.35" font-size="7.14" textLength="27.36" lengthAdjust="spacingAndGlyphs" fill="#231f20" style="stroke-width:0.1px">3.90 nM</text>
<line x1="466.4" y1="615.1" x2="476.3" y2="615.1" stroke="#a69fe0" stroke-width="1.4" />
<text x="480.12" y="617.4" font-size="7.14" textLength="27.36" lengthAdjust="spacingAndGlyphs" fill="#231f20" style="stroke-width:0.1px">7.81 nM</text>
<line x1="466.4" y1="625.15" x2="476.3" y2="625.15" stroke="#f0a33a" stroke-width="1.4" />
<text x="479.93" y="627.45" font-size="7.14" textLength="31.57" lengthAdjust="spacingAndGlyphs" fill="#231f20" style="stroke-width:0.1px">15.63 nM</text>
<line x1="466.4" y1="635.2" x2="476.3" y2="635.2" stroke="#4d6ea6" stroke-width="1.4" />
<text x="480.2" y="637.5" font-size="7.14" textLength="31.57" lengthAdjust="spacingAndGlyphs" fill="#231f20" style="stroke-width:0.1px">31.25 nM</text>
<text x="9.88" y="727.7" font-size="15.94" font-weight="bold" textLength="9.44" lengthAdjust="spacingAndGlyphs" fill="#000" >E</text>
<polyline points="64.5,840.25 65.1,840.11 65.69,839.97 66.29,839.83 66.89,839.69 67.49,839.56 68.08,839.42 68.68,839.29 69.28,839.15 69.87,839.02 70.47,838.89 71.07,838.76 71.67,838.63 72.26,838.5 72.86,838.38 73.46,838.25 74.06,838.12 74.65,838 75.25,837.88 75.85,837.76 76.44,837.63 77.04,837.51 77.64,837.4 78.24,837.28 78.83,837.16 79.43,837.04 80.03,836.93 80.62,836.81 81.22,836.7 81.82,836.59 82.42,836.48 83.01,836.46 84.21,836.46 85.4,836.45 86.6,836.41 87.79,836.6 88.99,836.41 90.18,836.54 91.37,836.65 92.57,836.47 93.76,836.6 94.96,836.63 96.15,836.5 97.35,836.6 98.54,836.69 99.73,836.64 100.93,836.72 102.12,836.6 103.32,836.63 104.51,836.61 105.71,836.72 106.9,836.84 108.1,836.77 109.29,836.83 110.48,836.75 111.68,836.85 112.87,836.7 114.07,836.76 115.26,836.87 116.46,836.89 117.65,836.83 118.85,836.77 120.04,836.82 121.23,836.82 122.43,836.85 123.62,836.99 124.82,836.86 126.01,837.03 127.21,837.05 128.4,836.86 129.59,836.95 130.79,836.99 131.98,836.89 133.18,837 134.37,837.13 135.57,836.95 136.76,837.08 137.96,836.97 139.15,837.1 140.34,837.18 141.54,837.03 142.73,837 143.93,837.03 145.12,837.15 146.32,837.03 147.51,837.06 148.71,837.17 149.9,837.29 151.09,837.18 152.29,837.18 153.48,837.25 154.68,837.13 155.87,837.26 157.07,837.18 158.26,837.29 159.45,837.39 160.65,837.18 161.84,837.31 163.04,837.34 164.23,837.24 165.43,837.28 166.62,837.46 167.82,837.47 169.01,837.28 170.2,837.43 171.4,837.5 172.59,837.34 173.79,837.44 174.98,837.31 176.18,837.4 177.37,837.48 178.57,837.47 179.76,837.53 180.95,837.37 182.15,837.45 183.34,837.58 184.54,837.53 185.73,837.5 186.93,837.5 188.12,837.65 189.31,837.56 190.51,837.44 191.7,837.64 192.9,837.54 194.09,837.57 195.29,837.53 196.48,837.59 197.68,837.58 198.87,837.53 200.06,837.67 201.26,837.55 202.45,837.73 203.65,837.55 204.84,837.74 206.04,837.76 207.23,837.7 208.43,837.76 209.62,837.66 210.81,837.78 212.01,837.72 213.2,837.68" fill="none" stroke="#8d929b" stroke-width="1.1" stroke-linejoin="round"/>
<polyline points="64.5,840.25 65.1,839.96 65.69,839.67 66.29,839.39 66.89,839.11 67.49,838.83 68.08,838.56 68.68,838.29 69.28,838.02 69.87,837.75 70.47,837.49 71.07,837.23 71.67,836.97 72.26,836.72 72.86,836.47 73.46,836.22 74.06,835.97 74.65,835.73 75.25,835.49 75.85,835.25 76.44,835.02 77.04,834.79 77.64,834.56 78.24,834.33 78.83,834.1 79.43,833.88 80.03,833.66 80.62,833.44 81.22,833.23 81.82,833.01 82.42,832.8 83.01,832.76 84.21,832.9 85.4,832.79 86.6,832.8 87.79,832.94 88.99,832.85 90.18,832.95 91.37,832.85 92.57,833.04 93.76,832.92 94.96,832.9 96.15,833.14 97.35,832.97 98.54,833.18 99.73,833.22 100.93,833.15 102.12,833.03 103.32,833.07 104.51,833.13 105.71,833.19 106.9,833.27 108.1,833.38 109.29,833.25 110.48,833.23 111.68,833.35 112.87,833.27 114.07,833.28 115.26,833.42 116.46,833.47 117.65,833.35 118.85,833.46 120.04,833.54 121.23,833.58 122.43,833.51 123.62,833.65 124.82,833.5 126.01,833.66 127.21,833.69 128.4,833.74 129.59,833.67 130.79,833.6 131.98,833.61 133.18,833.74 134.37,833.68 135.57,833.81 136.76,833.7 137.96,833.89 139.15,833.78 140.34,833.75 141.54,833.81 142.73,833.9 143.93,833.94 145.12,833.92 146.32,833.89 147.51,833.99 148.71,834.12 149.9,834.04 151.09,834.16 152.29,833.96 153.48,834.22 154.68,834.21 155.87,834.15 157.07,834.16 158.26,834.19 159.45,834.3 160.65,834.11 161.84,834.27 163.04,834.27 164.23,834.23 165.43,834.35 166.62,834.37 167.82,834.24 169.01,834.41 170.2,834.37 171.4,834.39 172.59,834.45 173.79,834.33 174.98,834.48 176.18,834.44 177.37,834.58 178.57,834.45 179.76,834.61 180.95,834.61 182.15,834.6 183.34,834.68 184.54,834.5 185.73,834.65 186.93,834.67 188.12,834.71 189.31,834.66 190.51,834.6 191.7,834.64 192.9,834.76 194.09,834.68 195.29,834.67 196.48,834.76 197.68,834.8 198.87,834.84 200.06,834.73 201.26,834.93 202.45,834.84 203.65,834.97 204.84,834.8 206.04,835.05 207.23,834.98 208.43,835.09 209.62,835.11 210.81,835.09 212.01,834.93 213.2,835.01" fill="none" stroke="#e0399e" stroke-width="1.1" stroke-linejoin="round"/>
<polyline points="64.5,840.25 65.1,839.66 65.69,839.07 66.29,838.5 66.89,837.93 67.49,837.37 68.08,836.82 68.68,836.28 69.28,835.75 69.87,835.22 70.47,834.71 71.07,834.2 71.67,833.69 72.26,833.2 72.86,832.71 73.46,832.23 74.06,831.76 74.65,831.3 75.25,830.84 75.85,830.39 76.44,829.94 77.04,829.5 77.64,829.07 78.24,828.65 78.83,828.23 79.43,827.82 80.03,827.41 80.62,827.01 81.22,826.62 81.82,826.23 82.42,825.84 83.01,825.77 84.21,825.76 85.4,825.95 86.6,825.86 87.79,825.93 88.99,825.95 90.18,826.01 91.37,826.26 92.57,826.32 93.76,826.23 94.96,826.38 96.15,826.36 97.35,826.43 98.54,826.45 99.73,826.56 100.93,826.52 102.12,826.58 103.32,826.69 104.51,826.67 105.71,826.78 106.9,826.95 108.1,826.78 109.29,826.85 110.48,827.07 111.68,826.94 112.87,827.04 114.07,827.23 115.26,827.23 116.46,827.18 117.65,827.19 118.85,827.3 120.04,827.35 121.23,827.52 122.43,827.61 123.62,827.62 124.82,827.69 126.01,827.75 127.21,827.78 128.4,827.84 129.59,827.9 130.79,827.74 131.98,827.84 133.18,827.87 134.37,828 135.57,828.02 136.76,828.04 137.96,828.2 139.15,828.14 140.34,828.14 141.54,828.21 142.73,828.3 143.93,828.38 145.12,828.41 146.32,828.43 147.51,828.41 148.71,828.51 149.9,828.54 151.09,828.54 152.29,828.68 153.48,828.64 154.68,828.81 155.87,828.84 157.07,828.76 158.26,828.92 159.45,828.89 160.65,828.96 161.84,829.04 163.04,829.12 164.23,829.2 165.43,829.2 166.62,829.12 167.82,829.24 169.01,829.24 170.2,829.2 171.4,829.37 172.59,829.39 173.79,829.53 174.98,829.44 176.18,829.61 177.37,829.57 178.57,829.51 179.76,829.7 180.95,829.64 182.15,829.74 183.34,829.67 184.54,829.69 185.73,829.95 186.93,829.78 188.12,829.85 189.31,829.89 190.51,829.91 191.7,830.13 192.9,830.21 194.09,830.16 195.29,830.14 196.48,830.3 197.68,830.24 198.87,830.19 200.06,830.37 201.26,830.32 202.45,830.34 203.65,830.39 204.84,830.44 206.04,830.43 207.23,830.57 208.43,830.67 209.62,830.64 210.81,830.54 212.01,830.74 213.2,830.62" fill="none" stroke="#74bd55" stroke-width="1.1" stroke-linejoin="round"/>
<polyline points="64.5,840.25 65.1,839.09 65.69,837.95 66.29,836.84 66.89,835.75 67.49,834.68 68.08,833.64 68.68,832.62 69.28,831.61 69.87,830.63 70.47,829.68 71.07,828.74 71.67,827.82 72.26,826.92 72.86,826.03 73.46,825.17 74.06,824.33 74.65,823.5 75.25,822.69 75.85,821.9 76.44,821.12 77.04,820.36 77.64,819.62 78.24,818.89 78.83,818.18 79.43,817.48 80.03,816.8 80.62,816.13 81.22,815.47 81.82,814.83 82.42,814.2 83.01,814.09 84.21,814.18 85.4,814.36 86.6,814.41 87.79,814.56 88.99,814.62 90.18,814.59 91.37,814.65 92.57,814.82 93.76,814.97 94.96,814.95 96.15,815.07 97.35,815.26 98.54,815.25 99.73,815.4 100.93,815.48 102.12,815.66 103.32,815.53 104.51,815.66 105.71,815.89 106.9,815.95 108.1,815.9 109.29,816 110.48,816.11 111.68,816.27 112.87,816.45 114.07,816.37 115.26,816.45 116.46,816.65 117.65,816.68 118.85,816.86 120.04,816.98 121.23,817.05 122.43,817.08 123.62,817.12 124.82,817.09 126.01,817.36 127.21,817.34 128.4,817.44 129.59,817.56 130.79,817.72 131.98,817.71 133.18,817.88 134.37,817.97 135.57,817.84 136.76,817.98 137.96,818.19 139.15,818.24 140.34,818.37 141.54,818.26 142.73,818.43 143.93,818.6 145.12,818.59 146.32,818.7 147.51,818.85 148.71,818.73 149.9,818.78 151.09,819.05 152.29,819.06 153.48,819.05 154.68,819.27 155.87,819.22 157.07,819.26 158.26,819.37 159.45,819.39 160.65,819.55 161.84,819.71 163.04,819.71 164.23,819.91 165.43,819.76 166.62,819.87 167.82,819.93 169.01,820.11 170.2,820.09 171.4,820.28 172.59,820.31 173.79,820.4 174.98,820.53 176.18,820.59 177.37,820.7 178.57,820.58 179.76,820.71 180.95,820.92 182.15,820.85 183.34,820.9 184.54,821.01 185.73,821.01 186.93,821.24 188.12,821.26 189.31,821.2 190.51,821.47 191.7,821.44 192.9,821.44 194.09,821.59 195.29,821.74 196.48,821.66 197.68,821.65 198.87,821.76 200.06,821.8 201.26,821.97 202.45,821.99 203.65,822.18 204.84,822.09 206.04,822.11 207.23,822.29 208.43,822.27 209.62,822.38 210.81,822.42 212.01,822.48 213.2,822.65" fill="none" stroke="#a69fe0" stroke-width="1.1" stroke-linejoin="round"/>
<polyline points="64.5,840.25 65.1,838.04 65.69,835.9 66.29,833.82 66.89,831.8 67.49,829.84 68.08,827.94 68.68,826.1 69.28,824.31 69.87,822.58 70.47,820.89 71.07,819.26 71.67,817.67 72.26,816.13 72.86,814.64 73.46,813.19 74.06,811.79 74.65,810.42 75.25,809.1 75.85,807.82 76.44,806.57 77.04,805.36 77.64,804.19 78.24,803.05 78.83,801.95 79.43,800.87 80.03,799.84 80.62,798.83 81.22,797.85 81.82,796.9 82.42,795.98 83.01,795.81 84.21,796.09 85.4,796.13 86.6,796.36 87.79,796.46 88.99,796.77 90.18,796.85 91.37,796.9 92.57,797.24 93.76,797.28 94.96,797.4 96.15,797.56 97.35,797.93 98.54,798.06 99.73,798.14 100.93,798.35 102.12,798.55 103.32,798.56 104.51,798.87 105.71,799.04 106.9,799.25 108.1,799.2 109.29,799.48 110.48,799.63 111.68,799.87 112.87,799.91 114.07,800.14 115.26,800.35 116.46,800.37 117.65,800.57 118.85,800.81 120.04,800.76 121.23,801.14 122.43,801.13 123.62,801.32 124.82,801.43 126.01,801.7 127.21,801.79 128.4,801.99 129.59,801.99 130.79,802.32 131.98,802.45 133.18,802.57 134.37,802.6 135.57,802.76 136.76,802.95 137.96,803 139.15,803.36 140.34,803.37 141.54,803.65 142.73,803.61 143.93,803.86 145.12,804.04 146.32,804.14 147.51,804.23 148.71,804.27 149.9,804.51 151.09,804.64 152.29,804.91 153.48,805.06 154.68,805.19 155.87,805.33 157.07,805.27 158.26,805.38 159.45,805.57 160.65,805.64 161.84,805.8 163.04,806.04 164.23,806.09 165.43,806.32 166.62,806.4 167.82,806.5 169.01,806.8 170.2,806.74 171.4,807.04 172.59,807.08 173.79,807.24 174.98,807.25 176.18,807.52 177.37,807.68 178.57,807.64 179.76,807.84 180.95,808.01 182.15,808.09 183.34,808.28 184.54,808.38 185.73,808.42 186.93,808.64 188.12,808.78 189.31,808.83 190.51,808.98 191.7,809.11 192.9,809.2 194.09,809.23 195.29,809.42 196.48,809.63 197.68,809.74 198.87,809.7 200.06,809.92 201.26,810.06 202.45,810.16 203.65,810.19 204.84,810.43 206.04,810.55 207.23,810.63 208.43,810.84 209.62,810.87 210.81,810.85 212.01,811.03 213.2,811.24" fill="none" stroke="#f0a33a" stroke-width="1.1" stroke-linejoin="round"/>
<polyline points="64.5,840.25 65.1,836.38 65.69,832.67 66.29,829.12 66.89,825.71 67.49,822.46 68.08,819.34 68.68,816.35 69.28,813.49 69.87,810.75 70.47,808.12 71.07,805.61 71.67,803.2 72.26,800.89 72.86,798.68 73.46,796.57 74.06,794.54 74.65,792.6 75.25,790.74 75.85,788.97 76.44,787.26 77.04,785.63 77.64,784.07 78.24,782.57 78.83,781.13 79.43,779.76 80.03,778.45 80.62,777.19 81.22,775.98 81.82,774.83 82.42,773.72 83.01,773.55 84.21,773.71 85.4,774.18 86.6,774.37 87.79,774.64 88.99,774.76 90.18,774.97 91.37,775.44 92.57,775.6 93.76,775.84 94.96,776.11 96.15,776.42 97.35,776.57 98.54,776.91 99.73,777.01 100.93,777.46 102.12,777.63 103.32,777.79 104.51,778.07 105.71,778.41 106.9,778.52 108.1,778.85 109.29,779.14 110.48,779.39 111.68,779.45 112.87,779.82 114.07,780.01 115.26,780.29 116.46,780.35 117.65,780.67 118.85,780.91 120.04,781.23 121.23,781.37 122.43,781.5 123.62,781.77 124.82,782.15 126.01,782.39 127.21,782.54 128.4,782.64 129.59,783.03 130.79,783.28 131.98,783.36 133.18,783.63 134.37,783.81 135.57,783.97 136.76,784.35 137.96,784.43 139.15,784.63 140.34,785.04 141.54,785.06 142.73,785.44 143.93,785.67 145.12,785.74 146.32,785.98 147.51,786.16 148.71,786.49 149.9,786.76 151.09,786.91 152.29,787.06 153.48,787.28 154.68,787.45 155.87,787.73 157.07,787.83 158.26,788.03 159.45,788.34 160.65,788.44 161.84,788.82 163.04,788.95 164.23,789.02 165.43,789.18 166.62,789.52 167.82,789.61 169.01,789.89 170.2,790.11 171.4,790.36 172.59,790.45 173.79,790.68 174.98,790.94 176.18,790.97 177.37,791.21 178.57,791.51 179.76,791.6 180.95,791.92 182.15,791.91 183.34,792.1 184.54,792.35 185.73,792.56 186.93,792.72 188.12,792.87 189.31,793.11 190.51,793.4 191.7,793.6 192.9,793.7 194.09,793.8 195.29,794.06 196.48,794.13 197.68,794.29 198.87,794.65 200.06,794.7 201.26,794.85 202.45,795.18 203.65,795.19 204.84,795.39 206.04,795.55 207.23,795.9 208.43,796.02 209.62,796.07 210.81,796.22 212.01,796.59 213.2,796.58" fill="none" stroke="#4d6ea6" stroke-width="1.1" stroke-linejoin="round"/>
<line x1="64.5" y1="736.3" x2="64.5" y2="840.85" stroke="#111" stroke-width="1.45" />
<line x1="60.3" y1="840" x2="64.5" y2="840" stroke="#111" stroke-width="1.4" />
<text x="56.2" y="843.1" font-size="8.8" text-anchor="end" fill="#231f20" >0</text>
<line x1="60.3" y1="820" x2="64.5" y2="820" stroke="#111" stroke-width="1.4" />
<text x="56.2" y="823.1" font-size="8.8" text-anchor="end" fill="#231f20" >10</text>
<line x1="60.3" y1="800" x2="64.5" y2="800" stroke="#111" stroke-width="1.4" />
<text x="56.2" y="803.1" font-size="8.8" text-anchor="end" fill="#231f20" >20</text>
<line x1="60.3" y1="780" x2="64.5" y2="780" stroke="#111" stroke-width="1.4" />
<text x="56.2" y="783.1" font-size="8.8" text-anchor="end" fill="#231f20" >30</text>
<line x1="60.3" y1="760" x2="64.5" y2="760" stroke="#111" stroke-width="1.4" />
<text x="56.2" y="763.1" font-size="8.8" text-anchor="end" fill="#231f20" >40</text>
<line x1="60.3" y1="740" x2="64.5" y2="740" stroke="#111" stroke-width="1.4" />
<text x="56.2" y="743.1" font-size="8.8" text-anchor="end" fill="#231f20" >50</text>
<line x1="63.9" y1="840.25" x2="217" y2="840.25" stroke="#111" stroke-width="1.45" />
<line x1="64.5" y1="840.25" x2="64.5" y2="843.85" stroke="#111" stroke-width="1.4" />
<text x="64.5" y="855.3" font-size="8.8" text-anchor="middle" fill="#231f20" >0</text>
<line x1="139.15" y1="840.25" x2="139.15" y2="843.85" stroke="#111" stroke-width="1.4" />
<text x="139.15" y="855.3" font-size="8.8" text-anchor="middle" fill="#231f20" >500</text>
<line x1="213.8" y1="840.25" x2="213.8" y2="843.85" stroke="#111" stroke-width="1.4" />
<text x="213.8" y="855.3" font-size="8.8" text-anchor="middle" fill="#231f20" >1000</text>
<text x="121.08" y="871.6" font-size="11.72" textLength="40.74" lengthAdjust="spacingAndGlyphs" fill="#231f20" >Time / sec</text>
<text x="0" y="0" font-size="12.69" textLength="58.85" lengthAdjust="spacingAndGlyphs" fill="#231f20" transform="translate(40.1 817.19) rotate(-90)" >Response / RU</text>
<line x1="233.7" y1="763" x2="243.4" y2="763" stroke="#8d929b" stroke-width="1.4" />
<text x="247.6" y="765.5" font-size="7.14" textLength="27.36" lengthAdjust="spacingAndGlyphs" fill="#231f20" style="stroke-width:0.1px">0.49 nM</text>
<line x1="233.7" y1="772.98" x2="243.4" y2="772.98" stroke="#e0399e" stroke-width="1.4" />
<text x="247.6" y="775.48" font-size="7.14" textLength="27.36" lengthAdjust="spacingAndGlyphs" fill="#231f20" style="stroke-width:0.1px">0.98 nM</text>
<line x1="233.7" y1="782.96" x2="243.4" y2="782.96" stroke="#74bd55" stroke-width="1.4" />
<text x="247.33" y="785.46" font-size="7.14" textLength="27.36" lengthAdjust="spacingAndGlyphs" fill="#231f20" style="stroke-width:0.1px">1.95 nM</text>
<line x1="233.7" y1="792.94" x2="243.4" y2="792.94" stroke="#a69fe0" stroke-width="1.4" />
<text x="247.6" y="795.44" font-size="7.14" textLength="27.36" lengthAdjust="spacingAndGlyphs" fill="#231f20" style="stroke-width:0.1px">3.90 nM</text>
<line x1="233.7" y1="802.92" x2="243.4" y2="802.92" stroke="#f0a33a" stroke-width="1.4" />
<text x="247.52" y="805.42" font-size="7.14" textLength="27.36" lengthAdjust="spacingAndGlyphs" fill="#231f20" style="stroke-width:0.1px">7.81 nM</text>
<line x1="233.7" y1="812.9" x2="243.4" y2="812.9" stroke="#4d6ea6" stroke-width="1.4" />
<text x="247.33" y="815.4" font-size="7.14" textLength="31.57" lengthAdjust="spacingAndGlyphs" fill="#231f20" style="stroke-width:0.1px">15.63 nM</text>
</svg>
</body></html>
